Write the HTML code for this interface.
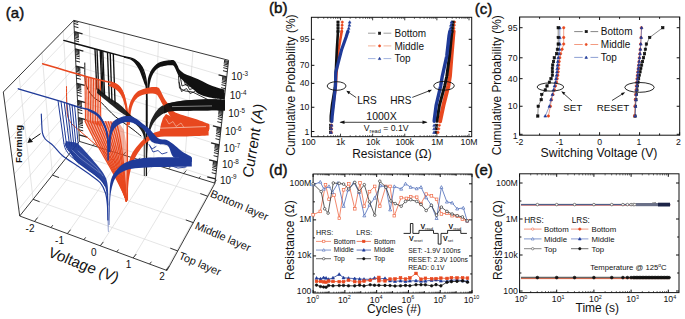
<!DOCTYPE html>
<html><head><meta charset="utf-8"><style>
html,body{margin:0;padding:0;background:#fff;}
svg{display:block;}
text{font-family:"Liberation Sans",sans-serif;}
</style></head><body>
<svg width="685" height="319" viewBox="0 0 685 319">
<rect width="685" height="319" fill="#fff"/>
<line x1="89.35" y1="24.32" x2="93.02" y2="145.60" stroke="#d3d3d3" stroke-width="0.6" />
<line x1="123.90" y1="33.25" x2="123.29" y2="154.93" stroke="#d3d3d3" stroke-width="0.6" />
<line x1="158.46" y1="42.17" x2="153.56" y2="164.26" stroke="#d3d3d3" stroke-width="0.6" />
<line x1="193.01" y1="51.10" x2="183.82" y2="173.59" stroke="#d3d3d3" stroke-width="0.6" />
<line x1="227.56" y1="60.03" x2="214.09" y2="182.92" stroke="#d3d3d3" stroke-width="0.6" />
<line x1="74.33" y1="31.70" x2="226.76" y2="76.90" stroke="#d3d3d3" stroke-width="0.6" />
<line x1="75.12" y1="48.90" x2="224.88" y2="93.90" stroke="#d3d3d3" stroke-width="0.6" />
<line x1="75.92" y1="66.10" x2="223.00" y2="110.90" stroke="#d3d3d3" stroke-width="0.6" />
<line x1="76.71" y1="83.30" x2="221.12" y2="127.90" stroke="#d3d3d3" stroke-width="0.6" />
<line x1="77.51" y1="100.50" x2="219.24" y2="144.90" stroke="#d3d3d3" stroke-width="0.6" />
<line x1="78.30" y1="117.70" x2="217.36" y2="161.90" stroke="#d3d3d3" stroke-width="0.6" />
<line x1="79.10" y1="134.90" x2="215.48" y2="178.90" stroke="#d3d3d3" stroke-width="0.6" />
<line x1="74.33" y1="31.70" x2="4.84" y2="103.67" stroke="#d3d3d3" stroke-width="0.6" />
<line x1="75.12" y1="48.90" x2="7.17" y2="121.28" stroke="#d3d3d3" stroke-width="0.6" />
<line x1="75.92" y1="66.10" x2="9.50" y2="138.90" stroke="#d3d3d3" stroke-width="0.6" />
<line x1="76.71" y1="83.30" x2="11.83" y2="156.51" stroke="#d3d3d3" stroke-width="0.6" />
<line x1="77.51" y1="100.50" x2="14.16" y2="174.12" stroke="#d3d3d3" stroke-width="0.6" />
<line x1="78.30" y1="117.70" x2="16.49" y2="191.73" stroke="#d3d3d3" stroke-width="0.6" />
<line x1="79.10" y1="134.90" x2="18.82" y2="209.34" stroke="#d3d3d3" stroke-width="0.6" />
<line x1="19.09" y1="75.94" x2="33.07" y2="199.29" stroke="#d3d3d3" stroke-width="0.6" />
<line x1="41.93" y1="52.71" x2="52.42" y2="175.12" stroke="#d3d3d3" stroke-width="0.6" />
<line x1="63.22" y1="31.05" x2="70.45" y2="152.59" stroke="#d3d3d3" stroke-width="0.6" />
<line x1="34.50" y1="221.47" x2="93.02" y2="145.60" stroke="#d3d3d3" stroke-width="0.6" />
<line x1="67.38" y1="233.64" x2="123.29" y2="154.93" stroke="#d3d3d3" stroke-width="0.6" />
<line x1="100.25" y1="245.80" x2="153.56" y2="164.26" stroke="#d3d3d3" stroke-width="0.6" />
<line x1="133.13" y1="257.97" x2="183.82" y2="173.59" stroke="#d3d3d3" stroke-width="0.6" />
<line x1="166.01" y1="270.14" x2="214.09" y2="182.92" stroke="#d3d3d3" stroke-width="0.6" />
<line x1="33.07" y1="199.29" x2="177.75" y2="250.94" stroke="#d3d3d3" stroke-width="0.6" />
<line x1="52.42" y1="175.12" x2="193.30" y2="222.66" stroke="#d3d3d3" stroke-width="0.6" />
<line x1="70.45" y1="152.59" x2="207.80" y2="196.29" stroke="#d3d3d3" stroke-width="0.6" />
<line x1="73.80" y1="20.30" x2="228.60" y2="60.30" stroke="#222" stroke-width="0.9" />
<line x1="73.80" y1="20.30" x2="3.30" y2="92.00" stroke="#222" stroke-width="0.9" />
<line x1="3.30" y1="92.00" x2="19.70" y2="216.00" stroke="#222" stroke-width="0.9" />
<line x1="19.70" y1="216.00" x2="167.00" y2="270.50" stroke="#222" stroke-width="0.9" />
<line x1="167.00" y1="270.50" x2="215.00" y2="183.20" stroke="#222" stroke-width="0.9" />
<line x1="215.00" y1="183.20" x2="228.60" y2="60.30" stroke="#222" stroke-width="0.9" />
<line x1="73.80" y1="20.30" x2="79.40" y2="141.40" stroke="#222" stroke-width="0.9" />
<line x1="79.40" y1="141.40" x2="215.00" y2="183.20" stroke="#222" stroke-width="0.9" />
<line x1="19.70" y1="216.00" x2="79.40" y2="141.40" stroke="#222" stroke-width="0.9" />
<line x1="74.33" y1="31.70" x2="82.56" y2="33.83" stroke="#222" stroke-width="1.3" />
<line x1="226.76" y1="76.90" x2="218.54" y2="74.78" stroke="#222" stroke-width="1.3" />
<line x1="74.09" y1="26.52" x2="78.44" y2="27.65" stroke="#222" stroke-width="1.0" />
<line x1="227.33" y1="71.78" x2="222.97" y2="70.66" stroke="#222" stroke-width="1.0" />
<line x1="73.95" y1="23.49" x2="78.30" y2="24.62" stroke="#222" stroke-width="1.0" />
<line x1="227.66" y1="68.79" x2="223.30" y2="67.66" stroke="#222" stroke-width="1.0" />
<line x1="73.85" y1="21.34" x2="78.20" y2="22.47" stroke="#222" stroke-width="1.0" />
<line x1="227.90" y1="66.66" x2="223.54" y2="65.54" stroke="#222" stroke-width="1.0" />
<line x1="228.08" y1="65.02" x2="223.72" y2="63.89" stroke="#222" stroke-width="1.0" />
<line x1="228.23" y1="63.67" x2="223.87" y2="62.55" stroke="#222" stroke-width="1.0" />
<line x1="228.35" y1="62.53" x2="224.00" y2="61.41" stroke="#222" stroke-width="1.0" />
<line x1="228.46" y1="61.55" x2="224.11" y2="60.42" stroke="#222" stroke-width="1.0" />
<line x1="75.12" y1="48.90" x2="83.35" y2="51.02" stroke="#222" stroke-width="1.3" />
<line x1="224.88" y1="93.90" x2="216.65" y2="91.78" stroke="#222" stroke-width="1.3" />
<line x1="74.88" y1="43.72" x2="79.24" y2="44.85" stroke="#222" stroke-width="1.0" />
<line x1="225.45" y1="88.78" x2="221.09" y2="87.66" stroke="#222" stroke-width="1.0" />
<line x1="74.74" y1="40.69" x2="79.10" y2="41.82" stroke="#222" stroke-width="1.0" />
<line x1="225.78" y1="85.79" x2="221.42" y2="84.66" stroke="#222" stroke-width="1.0" />
<line x1="74.64" y1="38.54" x2="79.00" y2="39.67" stroke="#222" stroke-width="1.0" />
<line x1="226.01" y1="83.66" x2="221.66" y2="82.54" stroke="#222" stroke-width="1.0" />
<line x1="74.57" y1="36.88" x2="78.92" y2="38.00" stroke="#222" stroke-width="1.0" />
<line x1="226.20" y1="82.02" x2="221.84" y2="80.89" stroke="#222" stroke-width="1.0" />
<line x1="74.50" y1="35.52" x2="78.86" y2="36.64" stroke="#222" stroke-width="1.0" />
<line x1="226.35" y1="80.67" x2="221.99" y2="79.55" stroke="#222" stroke-width="1.0" />
<line x1="74.45" y1="34.36" x2="78.81" y2="35.49" stroke="#222" stroke-width="1.0" />
<line x1="226.47" y1="79.53" x2="222.12" y2="78.41" stroke="#222" stroke-width="1.0" />
<line x1="74.40" y1="33.37" x2="78.76" y2="34.49" stroke="#222" stroke-width="1.0" />
<line x1="226.58" y1="78.55" x2="222.22" y2="77.42" stroke="#222" stroke-width="1.0" />
<line x1="74.36" y1="32.49" x2="78.72" y2="33.61" stroke="#222" stroke-width="1.0" />
<line x1="226.68" y1="77.68" x2="222.32" y2="76.55" stroke="#222" stroke-width="1.0" />
<line x1="75.92" y1="66.10" x2="84.15" y2="68.22" stroke="#222" stroke-width="1.3" />
<line x1="223.00" y1="110.90" x2="214.77" y2="108.78" stroke="#222" stroke-width="1.3" />
<line x1="75.68" y1="60.92" x2="80.03" y2="62.05" stroke="#222" stroke-width="1.0" />
<line x1="223.57" y1="105.78" x2="219.21" y2="104.66" stroke="#222" stroke-width="1.0" />
<line x1="75.54" y1="57.89" x2="79.89" y2="59.02" stroke="#222" stroke-width="1.0" />
<line x1="223.90" y1="102.79" x2="219.54" y2="101.66" stroke="#222" stroke-width="1.0" />
<line x1="75.44" y1="55.74" x2="79.80" y2="56.87" stroke="#222" stroke-width="1.0" />
<line x1="224.13" y1="100.66" x2="219.78" y2="99.54" stroke="#222" stroke-width="1.0" />
<line x1="75.36" y1="54.08" x2="79.72" y2="55.20" stroke="#222" stroke-width="1.0" />
<line x1="224.32" y1="99.02" x2="219.96" y2="97.89" stroke="#222" stroke-width="1.0" />
<line x1="75.30" y1="52.72" x2="79.65" y2="53.84" stroke="#222" stroke-width="1.0" />
<line x1="224.46" y1="97.67" x2="220.11" y2="96.55" stroke="#222" stroke-width="1.0" />
<line x1="75.25" y1="51.56" x2="79.60" y2="52.69" stroke="#222" stroke-width="1.0" />
<line x1="224.59" y1="96.53" x2="220.23" y2="95.41" stroke="#222" stroke-width="1.0" />
<line x1="75.20" y1="50.57" x2="79.56" y2="51.69" stroke="#222" stroke-width="1.0" />
<line x1="224.70" y1="95.55" x2="220.34" y2="94.42" stroke="#222" stroke-width="1.0" />
<line x1="75.16" y1="49.69" x2="79.51" y2="50.81" stroke="#222" stroke-width="1.0" />
<line x1="224.80" y1="94.68" x2="220.44" y2="93.55" stroke="#222" stroke-width="1.0" />
<line x1="76.71" y1="83.30" x2="84.94" y2="85.42" stroke="#222" stroke-width="1.3" />
<line x1="221.12" y1="127.90" x2="212.89" y2="125.78" stroke="#222" stroke-width="1.3" />
<line x1="76.47" y1="78.12" x2="80.83" y2="79.25" stroke="#222" stroke-width="1.0" />
<line x1="221.69" y1="122.78" x2="217.33" y2="121.66" stroke="#222" stroke-width="1.0" />
<line x1="76.33" y1="75.09" x2="80.69" y2="76.22" stroke="#222" stroke-width="1.0" />
<line x1="222.02" y1="119.79" x2="217.66" y2="118.66" stroke="#222" stroke-width="1.0" />
<line x1="76.23" y1="72.94" x2="80.59" y2="74.07" stroke="#222" stroke-width="1.0" />
<line x1="222.25" y1="117.66" x2="217.90" y2="116.54" stroke="#222" stroke-width="1.0" />
<line x1="76.16" y1="71.28" x2="80.51" y2="72.40" stroke="#222" stroke-width="1.0" />
<line x1="222.43" y1="116.02" x2="218.08" y2="114.89" stroke="#222" stroke-width="1.0" />
<line x1="76.09" y1="69.92" x2="80.45" y2="71.04" stroke="#222" stroke-width="1.0" />
<line x1="222.58" y1="114.67" x2="218.23" y2="113.55" stroke="#222" stroke-width="1.0" />
<line x1="76.04" y1="68.76" x2="80.40" y2="69.89" stroke="#222" stroke-width="1.0" />
<line x1="222.71" y1="113.53" x2="218.35" y2="112.41" stroke="#222" stroke-width="1.0" />
<line x1="75.99" y1="67.77" x2="80.35" y2="68.89" stroke="#222" stroke-width="1.0" />
<line x1="222.82" y1="112.55" x2="218.46" y2="111.42" stroke="#222" stroke-width="1.0" />
<line x1="75.95" y1="66.89" x2="80.31" y2="68.01" stroke="#222" stroke-width="1.0" />
<line x1="222.91" y1="111.68" x2="218.56" y2="110.55" stroke="#222" stroke-width="1.0" />
<line x1="77.51" y1="100.50" x2="85.74" y2="102.62" stroke="#222" stroke-width="1.3" />
<line x1="219.24" y1="144.90" x2="211.01" y2="142.78" stroke="#222" stroke-width="1.3" />
<line x1="77.27" y1="95.32" x2="81.63" y2="96.45" stroke="#222" stroke-width="1.0" />
<line x1="219.80" y1="139.78" x2="215.45" y2="138.66" stroke="#222" stroke-width="1.0" />
<line x1="77.13" y1="92.29" x2="81.49" y2="93.42" stroke="#222" stroke-width="1.0" />
<line x1="220.14" y1="136.79" x2="215.78" y2="135.66" stroke="#222" stroke-width="1.0" />
<line x1="77.03" y1="90.14" x2="81.39" y2="91.27" stroke="#222" stroke-width="1.0" />
<line x1="220.37" y1="134.66" x2="216.01" y2="133.54" stroke="#222" stroke-width="1.0" />
<line x1="76.95" y1="88.48" x2="81.31" y2="89.60" stroke="#222" stroke-width="1.0" />
<line x1="220.55" y1="133.02" x2="216.20" y2="131.89" stroke="#222" stroke-width="1.0" />
<line x1="76.89" y1="87.12" x2="81.25" y2="88.24" stroke="#222" stroke-width="1.0" />
<line x1="220.70" y1="131.67" x2="216.35" y2="130.55" stroke="#222" stroke-width="1.0" />
<line x1="76.84" y1="85.96" x2="81.19" y2="87.09" stroke="#222" stroke-width="1.0" />
<line x1="220.83" y1="130.53" x2="216.47" y2="129.41" stroke="#222" stroke-width="1.0" />
<line x1="76.79" y1="84.97" x2="81.15" y2="86.09" stroke="#222" stroke-width="1.0" />
<line x1="220.94" y1="129.55" x2="216.58" y2="128.42" stroke="#222" stroke-width="1.0" />
<line x1="76.75" y1="84.09" x2="81.11" y2="85.21" stroke="#222" stroke-width="1.0" />
<line x1="221.03" y1="128.68" x2="216.68" y2="127.55" stroke="#222" stroke-width="1.0" />
<line x1="78.30" y1="117.70" x2="86.53" y2="119.83" stroke="#222" stroke-width="1.3" />
<line x1="217.36" y1="161.90" x2="209.13" y2="159.78" stroke="#222" stroke-width="1.3" />
<line x1="78.06" y1="112.52" x2="82.42" y2="113.65" stroke="#222" stroke-width="1.0" />
<line x1="217.92" y1="156.78" x2="213.57" y2="155.66" stroke="#222" stroke-width="1.0" />
<line x1="77.92" y1="109.49" x2="82.28" y2="110.62" stroke="#222" stroke-width="1.0" />
<line x1="218.25" y1="153.79" x2="213.90" y2="152.66" stroke="#222" stroke-width="1.0" />
<line x1="77.83" y1="107.34" x2="82.18" y2="108.47" stroke="#222" stroke-width="1.0" />
<line x1="218.49" y1="151.66" x2="214.13" y2="150.54" stroke="#222" stroke-width="1.0" />
<line x1="77.75" y1="105.68" x2="82.10" y2="106.80" stroke="#222" stroke-width="1.0" />
<line x1="218.67" y1="150.02" x2="214.32" y2="148.89" stroke="#222" stroke-width="1.0" />
<line x1="77.69" y1="104.32" x2="82.04" y2="105.44" stroke="#222" stroke-width="1.0" />
<line x1="218.82" y1="148.67" x2="214.46" y2="147.55" stroke="#222" stroke-width="1.0" />
<line x1="77.63" y1="103.16" x2="81.99" y2="104.29" stroke="#222" stroke-width="1.0" />
<line x1="218.95" y1="147.53" x2="214.59" y2="146.41" stroke="#222" stroke-width="1.0" />
<line x1="77.59" y1="102.17" x2="81.94" y2="103.29" stroke="#222" stroke-width="1.0" />
<line x1="219.06" y1="146.55" x2="214.70" y2="145.42" stroke="#222" stroke-width="1.0" />
<line x1="77.55" y1="101.29" x2="81.90" y2="102.41" stroke="#222" stroke-width="1.0" />
<line x1="219.15" y1="145.68" x2="214.80" y2="144.55" stroke="#222" stroke-width="1.0" />
<line x1="79.10" y1="134.90" x2="87.33" y2="137.02" stroke="#222" stroke-width="1.3" />
<line x1="215.48" y1="178.90" x2="207.25" y2="176.78" stroke="#222" stroke-width="1.3" />
<line x1="78.86" y1="129.72" x2="83.22" y2="130.85" stroke="#222" stroke-width="1.0" />
<line x1="216.04" y1="173.78" x2="211.69" y2="172.66" stroke="#222" stroke-width="1.0" />
<line x1="78.72" y1="126.69" x2="83.08" y2="127.82" stroke="#222" stroke-width="1.0" />
<line x1="216.37" y1="170.79" x2="212.02" y2="169.66" stroke="#222" stroke-width="1.0" />
<line x1="78.62" y1="124.54" x2="82.98" y2="125.67" stroke="#222" stroke-width="1.0" />
<line x1="216.61" y1="168.66" x2="212.25" y2="167.54" stroke="#222" stroke-width="1.0" />
<line x1="78.54" y1="122.88" x2="82.90" y2="124.00" stroke="#222" stroke-width="1.0" />
<line x1="216.79" y1="167.02" x2="212.43" y2="165.89" stroke="#222" stroke-width="1.0" />
<line x1="78.48" y1="121.52" x2="82.84" y2="122.64" stroke="#222" stroke-width="1.0" />
<line x1="216.94" y1="165.67" x2="212.58" y2="164.55" stroke="#222" stroke-width="1.0" />
<line x1="78.43" y1="120.36" x2="82.78" y2="121.49" stroke="#222" stroke-width="1.0" />
<line x1="217.07" y1="164.53" x2="212.71" y2="163.41" stroke="#222" stroke-width="1.0" />
<line x1="78.38" y1="119.37" x2="82.74" y2="120.49" stroke="#222" stroke-width="1.0" />
<line x1="217.17" y1="163.55" x2="212.82" y2="162.42" stroke="#222" stroke-width="1.0" />
<line x1="78.34" y1="118.49" x2="82.70" y2="119.61" stroke="#222" stroke-width="1.0" />
<line x1="217.27" y1="162.68" x2="212.91" y2="161.55" stroke="#222" stroke-width="1.0" />
<line x1="34.50" y1="221.47" x2="37.62" y2="217.57" stroke="#222" stroke-width="0.9" />
<line x1="93.02" y1="145.60" x2="95.52" y2="142.47" stroke="#222" stroke-width="0.8" />
<line x1="50.94" y1="227.56" x2="52.81" y2="225.21" stroke="#222" stroke-width="0.9" />
<line x1="108.15" y1="150.26" x2="109.65" y2="148.39" stroke="#222" stroke-width="0.8" />
<line x1="67.38" y1="233.64" x2="70.50" y2="229.73" stroke="#222" stroke-width="0.9" />
<line x1="123.29" y1="154.93" x2="125.79" y2="151.81" stroke="#222" stroke-width="0.8" />
<line x1="83.81" y1="239.72" x2="85.69" y2="237.38" stroke="#222" stroke-width="0.9" />
<line x1="138.42" y1="159.59" x2="139.92" y2="157.72" stroke="#222" stroke-width="0.8" />
<line x1="100.25" y1="245.80" x2="103.38" y2="241.90" stroke="#222" stroke-width="0.9" />
<line x1="153.56" y1="164.26" x2="156.06" y2="161.14" stroke="#222" stroke-width="0.8" />
<line x1="116.69" y1="251.89" x2="118.57" y2="249.54" stroke="#222" stroke-width="0.9" />
<line x1="168.69" y1="168.92" x2="170.19" y2="167.05" stroke="#222" stroke-width="0.8" />
<line x1="133.13" y1="257.97" x2="136.26" y2="254.06" stroke="#222" stroke-width="0.9" />
<line x1="183.82" y1="173.59" x2="186.32" y2="170.47" stroke="#222" stroke-width="0.8" />
<line x1="149.57" y1="264.05" x2="151.45" y2="261.71" stroke="#222" stroke-width="0.9" />
<line x1="198.96" y1="178.25" x2="200.46" y2="176.38" stroke="#222" stroke-width="0.8" />
<line x1="166.01" y1="270.14" x2="169.14" y2="266.23" stroke="#222" stroke-width="0.9" />
<line x1="214.09" y1="182.92" x2="216.59" y2="179.80" stroke="#222" stroke-width="0.8" />
<line x1="177.75" y1="250.94" x2="170.25" y2="248.17" stroke="#222" stroke-width="0.9" />
<line x1="33.07" y1="199.29" x2="39.64" y2="201.72" stroke="#222" stroke-width="0.9" />
<line x1="193.30" y1="222.66" x2="185.80" y2="219.88" stroke="#222" stroke-width="0.9" />
<line x1="52.42" y1="175.12" x2="58.98" y2="177.55" stroke="#222" stroke-width="0.9" />
<line x1="207.80" y1="196.29" x2="200.30" y2="193.52" stroke="#222" stroke-width="0.9" />
<line x1="70.45" y1="152.59" x2="77.01" y2="155.02" stroke="#222" stroke-width="0.9" />
<line x1="95.00" y1="48.96" x2="96.80" y2="89.50" stroke="#111" stroke-width="1.35" />
<line x1="97.00" y1="49.51" x2="98.80" y2="91.10" stroke="#111" stroke-width="1.35" />
<line x1="100.20" y1="50.39" x2="102.00" y2="93.66" stroke="#111" stroke-width="1.35" />
<line x1="101.40" y1="50.72" x2="103.20" y2="94.62" stroke="#111" stroke-width="1.35" />
<line x1="102.80" y1="51.11" x2="104.60" y2="95.74" stroke="#111" stroke-width="1.35" />
<line x1="107.50" y1="52.40" x2="109.30" y2="99.50" stroke="#111" stroke-width="1.35" />
<line x1="110.20" y1="53.14" x2="112.00" y2="101.66" stroke="#111" stroke-width="1.35" />
<line x1="113.30" y1="53.99" x2="115.10" y2="104.14" stroke="#111" stroke-width="1.35" />
<path d="M63.80,40.40 C69.83,42.03 90.63,47.67 100.00,50.20 C109.37,52.73 114.58,54.20 120.00,55.60 C125.42,57.00 129.63,57.57 132.50,58.60 C135.37,59.63 135.62,60.37 137.20,61.80 C138.78,63.23 140.70,65.00 142.00,67.20 C143.30,69.40 144.23,72.12 145.00,75.00 C145.77,77.88 146.27,80.33 146.60,84.50 C146.93,88.67 146.93,92.42 147.00,100.00 C147.07,107.58 147.00,125.00 147.00,130.00" stroke="#111" stroke-width="1.4" fill="none" stroke-linejoin="round" stroke-linecap="round" />
<path d="M124.00,56.60 C125.13,56.93 128.63,57.90 130.80,58.60 C132.97,59.30 135.33,59.82 137.00,60.80 C138.67,61.78 139.75,62.83 140.80,64.50 C141.85,66.17 142.57,68.70 143.30,70.80 C144.03,72.90 144.72,75.00 145.20,77.10 C145.68,79.20 145.93,81.25 146.20,83.40 C146.47,85.55 146.63,87.23 146.80,90.00 C146.97,92.77 147.13,98.33 147.20,100.00 L146.00,100.00 C145.93,97.85 145.88,89.87 145.60,87.10 C145.32,84.33 144.90,85.07 144.30,83.40 C143.70,81.73 142.78,79.20 142.00,77.10 C141.22,75.00 140.63,72.90 139.60,70.80 C138.57,68.70 137.27,66.33 135.80,64.50 C134.33,62.67 132.77,60.92 130.80,59.80 C128.83,58.68 125.13,58.13 124.00,57.80 Z" stroke="none" stroke-width="1" fill="#111" stroke-linejoin="round" stroke-linecap="round" />
<line x1="146.40" y1="100.00" x2="146.40" y2="176.00" stroke="#111" stroke-width="1.3" />
<line x1="144.20" y1="130.00" x2="144.30" y2="176.00" stroke="#111" stroke-width="0.9" />
<path d="M84.80,63.00 C84.83,65.50 84.72,74.17 85.00,78.00 C85.28,81.83 85.67,83.50 86.50,86.00 C87.33,88.50 88.58,90.92 90.00,93.00 C91.42,95.08 93.12,96.90 95.00,98.50 C96.88,100.10 99.13,100.77 101.30,102.60 C103.47,104.43 105.65,107.15 108.00,109.50 C110.35,111.85 112.73,114.45 115.40,116.70 C118.07,118.95 121.07,120.87 124.00,123.00 C126.93,125.13 130.17,127.33 133.00,129.50 C135.83,131.67 139.67,134.92 141.00,136.00" stroke="#111" stroke-width="1.0" fill="none" stroke-linejoin="round" stroke-linecap="round" />
<path d="M147.40,88.00 C147.47,86.67 147.50,82.25 147.80,80.00 C148.10,77.75 148.57,76.23 149.20,74.50 C149.83,72.77 150.72,71.02 151.60,69.60 C152.48,68.18 153.35,67.13 154.50,66.00 C155.65,64.87 156.93,63.65 158.50,62.80 C160.07,61.95 161.95,61.33 163.90,60.90 C165.85,60.47 168.55,60.32 170.20,60.20 C171.85,60.08 172.85,59.82 173.80,60.20 C174.75,60.58 175.23,61.53 175.90,62.50 C176.57,63.47 177.22,64.83 177.80,66.00 C178.38,67.17 178.37,68.27 179.40,69.50 C180.43,70.73 182.43,72.40 184.00,73.40 C185.57,74.40 186.43,74.52 188.80,75.50 C191.17,76.48 195.07,77.88 198.20,79.30 C201.33,80.72 204.47,82.62 207.60,84.00 C210.73,85.38 214.18,86.67 217.00,87.60 C219.82,88.53 223.25,89.27 224.50,89.60 L224.50,99.50 C222.92,99.33 217.80,98.92 215.00,98.50 C212.20,98.08 210.20,97.67 207.70,97.00 C205.20,96.33 202.28,95.67 200.00,94.50 C197.72,93.33 196.00,91.58 194.00,90.00 C192.00,88.42 189.92,86.67 188.00,85.00 C186.08,83.33 184.00,81.42 182.50,80.00 C181.00,78.58 179.93,77.78 179.00,76.50 C178.07,75.22 177.73,74.00 176.90,72.30 C176.07,70.60 174.98,67.47 174.00,66.30 C173.02,65.13 172.42,65.40 171.00,65.30 C169.58,65.20 167.47,65.35 165.50,65.70 C163.53,66.05 160.95,66.52 159.20,67.40 C157.45,68.28 156.23,69.47 155.00,71.00 C153.77,72.53 152.67,74.43 151.80,76.60 C150.93,78.77 150.25,81.43 149.80,84.00 C149.35,86.57 149.22,90.67 149.10,92.00 Z" stroke="none" stroke-width="1" fill="#111" stroke-linejoin="round" stroke-linecap="round" />
<polyline points="178.50,76.00 179.50,88.20 185.10,91.00 192.60,92.00 200.20,95.80 207.70,99.50" stroke="#111" stroke-width="0.85" fill="none" stroke-linejoin="round" stroke-linecap="round" />
<polyline points="180.50,78.00 182.00,86.00 187.00,84.00 189.50,89.50 194.50,88.00 197.50,93.00 203.00,93.50" stroke="#111" stroke-width="0.85" fill="none" stroke-linejoin="round" stroke-linecap="round" />
<polyline points="184.00,80.00 185.50,85.00 190.50,86.50 193.50,83.50 197.00,90.00 201.00,89.00" stroke="#111" stroke-width="0.85" fill="none" stroke-linejoin="round" stroke-linecap="round" />
<polyline points="179.00,82.00 181.50,91.50 186.50,88.50 190.00,93.50 195.00,91.50" stroke="#111" stroke-width="0.85" fill="none" stroke-linejoin="round" stroke-linecap="round" />
<path d="M146.20,160.00 C146.33,156.67 146.62,145.00 147.00,140.00 C147.38,135.00 147.78,133.42 148.50,130.00 C149.22,126.58 149.58,123.13 151.30,119.50 C153.02,115.87 155.98,110.90 158.80,108.20 C161.62,105.50 165.07,104.43 168.20,103.30 C171.33,102.17 174.47,101.90 177.60,101.40 C180.73,100.90 183.87,100.57 187.00,100.30 C190.13,100.03 193.23,99.98 196.40,99.80 C199.57,99.62 202.90,99.28 206.00,99.20 C209.10,99.12 211.83,99.13 215.00,99.30 C218.17,99.47 223.33,100.05 225.00,100.20 L225.00,110.50 C223.33,110.47 219.17,110.28 215.00,110.30 C210.83,110.32 204.67,110.52 200.00,110.60 C195.33,110.68 190.73,110.77 187.00,110.80 C183.27,110.83 180.73,110.63 177.60,110.80 C174.47,110.97 171.05,111.02 168.20,111.80 C165.35,112.58 162.70,113.97 160.50,115.50 C158.30,117.03 156.53,119.00 155.00,121.00 C153.47,123.00 152.33,124.83 151.30,127.50 C150.27,130.17 149.43,133.25 148.80,137.00 C148.17,140.75 147.80,145.83 147.50,150.00 C147.20,154.17 147.08,160.00 147.00,162.00 Z" stroke="none" stroke-width="1" fill="#111" stroke-linejoin="round" stroke-linecap="round" fill-opacity="0.93"/>
<line x1="85.00" y1="76.29" x2="85.50" y2="121.00" stroke="#e8481f" stroke-width="1.1" />
<line x1="86.70" y1="76.79" x2="87.20" y2="121.59" stroke="#e8481f" stroke-width="1.1" />
<line x1="88.40" y1="77.29" x2="88.90" y2="122.19" stroke="#e8481f" stroke-width="1.1" />
<line x1="90.10" y1="77.79" x2="90.60" y2="122.78" stroke="#e8481f" stroke-width="1.1" />
<line x1="91.80" y1="78.29" x2="92.30" y2="123.38" stroke="#e8481f" stroke-width="1.1" />
<line x1="93.50" y1="78.79" x2="94.00" y2="123.98" stroke="#e8481f" stroke-width="1.1" />
<line x1="95.20" y1="79.29" x2="95.70" y2="124.57" stroke="#e8481f" stroke-width="1.1" />
<line x1="96.90" y1="79.79" x2="97.40" y2="125.17" stroke="#e8481f" stroke-width="1.1" />
<line x1="98.60" y1="80.29" x2="99.10" y2="125.76" stroke="#e8481f" stroke-width="1.1" />
<line x1="100.30" y1="80.79" x2="100.80" y2="126.36" stroke="#e8481f" stroke-width="1.1" />
<path d="M66.50,86.60 C66.52,88.83 66.43,95.27 66.60,100.00 C66.77,104.73 66.93,111.42 67.50,115.00 C68.07,118.58 69.08,119.83 70.00,121.50 C70.92,123.17 71.00,123.12 73.00,125.00 C75.00,126.88 78.83,130.05 82.00,132.80 C85.17,135.55 88.67,138.63 92.00,141.50 C95.33,144.37 99.00,147.42 102.00,150.00 C105.00,152.58 107.67,154.83 110.00,157.00 C112.33,159.17 115.00,162.00 116.00,163.00" stroke="#e8481f" stroke-width="1.0" fill="none" stroke-linejoin="round" stroke-linecap="round" />
<path d="M42.60,63.80 C49.67,65.88 74.60,73.40 85.00,76.30 C95.40,79.20 100.60,80.22 105.00,81.20 C109.40,82.18 109.57,81.70 111.40,82.20 C113.23,82.70 114.53,83.27 116.00,84.20 C117.47,85.13 119.03,86.33 120.20,87.80 C121.37,89.27 122.23,90.85 123.00,93.00 C123.77,95.15 124.25,98.20 124.80,100.70 C125.35,103.20 125.92,105.65 126.30,108.00 C126.68,110.35 126.93,111.97 127.10,114.80 C127.27,117.63 127.27,110.80 127.30,125.00 C127.33,139.20 127.30,187.50 127.30,200.00" stroke="#e8481f" stroke-width="1.5" fill="none" stroke-linejoin="round" stroke-linecap="round" />
<path d="M112.00,82.30 C112.83,82.68 115.50,83.57 117.00,84.60 C118.50,85.63 119.80,86.93 121.00,88.50 C122.20,90.07 123.33,91.92 124.20,94.00 C125.07,96.08 125.63,98.58 126.20,101.00 C126.77,103.42 127.23,106.00 127.60,108.50 C127.97,111.00 128.27,114.75 128.40,116.00 L126.60,116.00 C126.43,114.83 126.07,111.33 125.60,109.00 C125.13,106.67 124.50,104.17 123.80,102.00 C123.10,99.83 122.37,97.80 121.40,96.00 C120.43,94.20 119.40,92.57 118.00,91.20 C116.60,89.83 114.67,88.70 113.00,87.80 C111.33,86.90 108.83,86.13 108.00,85.80 Z" stroke="none" stroke-width="1" fill="#e8481f" stroke-linejoin="round" stroke-linecap="round" />
<polygon points="86.00,120.00 96.00,121.00 104.00,121.00 112.00,121.50 119.00,123.00 124.00,130.00 126.50,145.00 126.80,200.00 126.00,200.00 123.50,190.00 119.00,180.00 113.00,171.00 107.00,162.00 101.00,150.00 95.00,138.00 87.00,126.00" fill="#e8481f" stroke="none" stroke-width="0" fill-opacity="0.42"/>
<path d="M85.00,121.00 C98.00,150.00 120.00,180.00 126.40,201.00" stroke="#e8481f" stroke-width="1.25" fill="none" stroke-linejoin="round" stroke-linecap="round" />
<path d="M87.58,121.08 C100.08,149.17 120.42,180.00 126.40,201.00" stroke="#e8481f" stroke-width="1.25" fill="none" stroke-linejoin="round" stroke-linecap="round" />
<path d="M90.17,121.17 C102.17,148.33 120.83,180.00 126.40,201.00" stroke="#e8481f" stroke-width="1.25" fill="none" stroke-linejoin="round" stroke-linecap="round" />
<path d="M92.75,121.25 C104.25,147.50 121.25,180.00 126.40,201.00" stroke="#e8481f" stroke-width="1.25" fill="none" stroke-linejoin="round" stroke-linecap="round" />
<path d="M95.33,121.33 C106.33,146.67 121.67,180.00 126.40,201.00" stroke="#e8481f" stroke-width="1.25" fill="none" stroke-linejoin="round" stroke-linecap="round" />
<path d="M97.92,121.42 C108.42,145.83 122.08,180.00 126.40,201.00" stroke="#e8481f" stroke-width="1.25" fill="none" stroke-linejoin="round" stroke-linecap="round" />
<path d="M100.50,121.50 C110.50,145.00 122.50,180.00 126.40,201.00" stroke="#e8481f" stroke-width="1.25" fill="none" stroke-linejoin="round" stroke-linecap="round" />
<path d="M103.08,121.58 C112.58,144.17 122.92,180.00 126.40,201.00" stroke="#e8481f" stroke-width="1.25" fill="none" stroke-linejoin="round" stroke-linecap="round" />
<path d="M105.67,121.67 C114.67,143.33 123.33,180.00 126.40,201.00" stroke="#e8481f" stroke-width="1.25" fill="none" stroke-linejoin="round" stroke-linecap="round" />
<path d="M108.25,121.75 C116.75,142.50 123.75,180.00 126.40,201.00" stroke="#e8481f" stroke-width="1.25" fill="none" stroke-linejoin="round" stroke-linecap="round" />
<path d="M110.83,121.83 C118.83,141.67 124.17,180.00 126.40,201.00" stroke="#e8481f" stroke-width="1.25" fill="none" stroke-linejoin="round" stroke-linecap="round" />
<path d="M113.42,121.92 C120.92,140.83 124.58,180.00 126.40,201.00" stroke="#e8481f" stroke-width="1.25" fill="none" stroke-linejoin="round" stroke-linecap="round" />
<path d="M116.00,122.00 C123.00,140.00 125.00,180.00 126.40,201.00" stroke="#e8481f" stroke-width="1.25" fill="none" stroke-linejoin="round" stroke-linecap="round" />
<path d="M128.20,125.00 C128.20,122.77 127.90,115.27 128.20,111.60 C128.50,107.93 129.27,105.35 130.00,103.00 C130.73,100.65 131.68,99.08 132.60,97.50 C133.52,95.92 134.45,94.62 135.50,93.50 C136.55,92.38 137.48,91.58 138.90,90.80 C140.32,90.02 142.25,89.37 144.00,88.80 C145.75,88.23 147.08,87.63 149.40,87.40 C151.72,87.17 156.02,86.78 157.90,87.40 C159.78,88.02 159.62,89.23 160.70,91.10 C161.78,92.97 163.15,96.42 164.40,98.60 C165.65,100.78 166.63,102.05 168.20,104.20 C169.77,106.35 171.30,109.65 173.80,111.50 C176.30,113.35 179.43,114.02 183.20,115.30 C186.97,116.58 192.32,117.82 196.40,119.20 C200.48,120.58 205.52,122.63 207.70,123.60 C209.88,124.57 209.20,124.77 209.50,125.00 L209.50,129.50 C207.95,129.30 203.95,128.93 200.20,128.30 C196.45,127.67 190.77,126.62 187.00,125.70 C183.23,124.78 180.27,124.22 177.60,122.80 C174.93,121.38 172.72,119.12 171.00,117.20 C169.28,115.28 168.70,113.40 167.30,111.30 C165.90,109.20 163.87,106.65 162.60,104.60 C161.33,102.55 160.72,100.67 159.70,99.00 C158.68,97.33 157.90,95.50 156.50,94.60 C155.10,93.70 153.22,93.67 151.30,93.60 C149.38,93.53 146.88,93.80 145.00,94.20 C143.12,94.60 141.58,95.07 140.00,96.00 C138.42,96.93 136.78,98.13 135.50,99.80 C134.22,101.47 133.12,103.63 132.30,106.00 C131.48,108.37 131.02,110.83 130.60,114.00 C130.18,117.17 129.93,123.17 129.80,125.00 Z" stroke="none" stroke-width="1" fill="#e8481f" stroke-linejoin="round" stroke-linecap="round" />
<polygon points="166.00,114.00 172.00,117.00 183.00,120.50 196.00,124.00 209.00,126.00 209.00,131.00 190.00,131.00 175.00,131.00 163.00,131.50 159.50,132.00 161.00,124.00 163.00,118.00" fill="#e8481f" stroke="none" stroke-width="0" />
<polyline points="166.00,119.00 169.00,124.00 173.00,121.50 176.00,126.50 181.00,123.00 184.00,127.50" stroke="#f6b8a0" stroke-width="0.7" fill="none" stroke-linejoin="round" stroke-linecap="round" />
<path d="M126.60,190.00 C126.67,187.17 126.52,178.00 127.00,173.00 C127.48,168.00 128.42,163.67 129.50,160.00 C130.58,156.33 131.83,153.77 133.50,151.00 C135.17,148.23 137.17,145.82 139.50,143.40 C141.83,140.98 144.28,138.53 147.50,136.50 C150.72,134.47 153.78,132.38 158.80,131.20 C163.82,130.02 171.33,129.83 177.60,129.40 C183.87,128.97 191.23,128.82 196.40,128.60 C201.57,128.38 206.57,128.18 208.60,128.10 L208.60,135.60 C205.00,135.73 194.37,136.23 187.00,136.40 C179.63,136.57 170.07,136.20 164.40,136.60 C158.73,137.00 156.07,137.73 153.00,138.80 C149.93,139.87 148.17,141.13 146.00,143.00 C143.83,144.87 141.83,147.50 140.00,150.00 C138.17,152.50 136.47,155.00 135.00,158.00 C133.53,161.00 132.23,164.33 131.20,168.00 C130.17,171.67 129.40,175.50 128.80,180.00 C128.20,184.50 127.80,192.50 127.60,195.00 Z" stroke="none" stroke-width="1" fill="#e8481f" stroke-linejoin="round" stroke-linecap="round" />
<line x1="160.00" y1="128.20" x2="206.00" y2="126.60" stroke="#f5b09a" stroke-width="1.0" />
<path d="M164.00,105.50 C164.70,105.13 165.93,103.98 168.20,103.30 C170.47,102.62 174.47,101.90 177.60,101.40 C180.73,100.90 183.87,100.57 187.00,100.30 C190.13,100.03 193.23,99.98 196.40,99.80 C199.57,99.62 202.90,99.28 206.00,99.20 C209.10,99.12 211.83,99.13 215.00,99.30 C218.17,99.47 223.33,100.05 225.00,100.20 L225.00,110.50 C223.33,110.47 219.17,110.28 215.00,110.30 C210.83,110.32 204.67,110.52 200.00,110.60 C195.33,110.68 190.73,110.77 187.00,110.80 C183.27,110.83 180.73,110.63 177.60,110.80 C174.47,110.97 170.47,111.35 168.20,111.80 C165.93,112.25 164.70,113.22 164.00,113.50 Z" stroke="none" stroke-width="1" fill="#111" stroke-linejoin="round" stroke-linecap="round" fill-opacity="0.93"/>
<line x1="172.00" y1="106.60" x2="212.00" y2="105.90" stroke="#cfcfcf" stroke-width="0.6" />
<path d="M97.50,88.00 C97.90,88.32 98.08,88.42 99.90,89.90 C101.72,91.38 105.35,94.67 108.40,96.90 C111.45,99.13 115.38,101.17 118.20,103.30 C121.02,105.43 123.42,107.93 125.30,109.70 C127.18,111.47 128.05,112.52 129.50,113.90 C130.95,115.28 132.42,116.57 134.00,118.00 C135.58,119.43 137.50,120.92 139.00,122.50 C140.50,124.08 141.92,125.58 143.00,127.50 C144.08,129.42 145.08,132.92 145.50,134.00 L146.00,142.00 C145.33,140.33 143.42,134.67 142.00,132.00 C140.58,129.33 139.33,127.92 137.50,126.00 C135.67,124.08 132.80,122.12 131.00,120.50 C129.20,118.88 128.83,117.98 126.70,116.30 C124.57,114.62 121.48,112.92 118.20,110.40 C114.92,107.88 110.05,103.68 107.00,101.20 C103.95,98.72 101.57,96.87 99.90,95.50 C98.23,94.13 97.48,93.42 97.00,93.00 Z" stroke="none" stroke-width="1" fill="#111" stroke-linejoin="round" stroke-linecap="round" fill-opacity="0.92"/>
<line x1="58.00" y1="100.58" x2="64.00" y2="143.80" stroke="#1f3a98" stroke-width="1.0" />
<line x1="61.00" y1="101.47" x2="66.50" y2="144.50" stroke="#1f3a98" stroke-width="1.0" />
<line x1="64.20" y1="102.42" x2="69.50" y2="145.50" stroke="#1f3a98" stroke-width="1.0" />
<line x1="66.80" y1="103.19" x2="71.80" y2="146.50" stroke="#1f3a98" stroke-width="1.0" />
<line x1="69.50" y1="103.99" x2="74.00" y2="147.00" stroke="#1f3a98" stroke-width="1.0" />
<line x1="72.00" y1="104.73" x2="76.20" y2="147.50" stroke="#1f3a98" stroke-width="1.0" />
<line x1="74.60" y1="105.50" x2="78.50" y2="148.00" stroke="#1f3a98" stroke-width="1.0" />
<path d="M64.00,143.80 C64.25,144.67 64.50,147.05 65.50,149.00 C66.50,150.95 67.92,153.33 70.00,155.50 C72.08,157.67 75.00,159.67 78.00,162.00 C81.00,164.33 84.83,167.08 88.00,169.50 C91.17,171.92 94.50,174.33 97.00,176.50 C99.50,178.67 101.42,180.25 103.00,182.50 C104.58,184.75 105.70,186.25 106.50,190.00 C107.30,193.75 107.58,202.50 107.80,205.00" stroke="#1f3a98" stroke-width="1.0" fill="none" stroke-linejoin="round" stroke-linecap="round" />
<path d="M65.50,143.80 C65.75,144.58 65.83,146.63 67.00,148.50 C68.17,150.37 70.17,152.75 72.50,155.00 C74.83,157.25 77.92,159.50 81.00,162.00 C84.08,164.50 87.92,167.42 91.00,170.00 C94.08,172.58 97.17,174.83 99.50,177.50 C101.83,180.17 104.08,184.58 105.00,186.00" stroke="#1f3a98" stroke-width="1.0" fill="none" stroke-linejoin="round" stroke-linecap="round" />
<path d="M18.30,88.80 C25.25,90.87 49.95,98.13 60.00,101.20 C70.05,104.27 73.67,105.77 78.60,107.20 C83.53,108.63 86.68,108.83 89.60,109.80 C92.52,110.77 94.28,111.72 96.10,113.00 C97.92,114.28 99.18,115.67 100.50,117.50 C101.82,119.33 102.95,121.58 104.00,124.00 C105.05,126.42 106.13,128.73 106.80,132.00 C107.47,135.27 107.78,138.93 108.00,143.60 C108.22,148.27 108.08,157.27 108.10,160.00" stroke="#1f3a98" stroke-width="1.4" fill="none" stroke-linejoin="round" stroke-linecap="round" />
<path d="M88.00,109.20 C89.17,109.67 93.00,110.83 95.00,112.00 C97.00,113.17 98.50,114.45 100.00,116.20 C101.50,117.95 102.83,120.13 104.00,122.50 C105.17,124.87 106.22,127.48 107.00,130.40 C107.78,133.32 108.33,136.40 108.70,140.00 C109.07,143.60 109.12,150.00 109.20,152.00 L107.60,152.00 C107.53,150.17 107.50,144.33 107.20,141.00 C106.90,137.67 106.47,134.67 105.80,132.00 C105.13,129.33 104.23,127.17 103.20,125.00 C102.17,122.83 101.00,120.75 99.60,119.00 C98.20,117.25 96.73,115.83 94.80,114.50 C92.87,113.17 89.13,111.58 88.00,111.00 Z" stroke="none" stroke-width="1" fill="#1f3a98" stroke-linejoin="round" stroke-linecap="round" />
<path d="M41.30,114.00 C41.38,115.83 41.62,121.90 41.80,125.00 C41.98,128.10 41.95,130.43 42.40,132.60 C42.85,134.77 43.58,136.53 44.50,138.00 C45.42,139.47 46.42,140.10 47.90,141.40 C49.38,142.70 50.95,143.40 53.40,145.80 C55.85,148.20 58.57,152.43 62.60,155.80 C66.63,159.17 73.00,162.83 77.60,166.00 C82.20,169.17 86.43,172.02 90.20,174.80 C93.97,177.58 97.65,179.67 100.20,182.70 C102.75,185.73 104.30,189.28 105.50,193.00 C106.70,196.72 107.00,200.50 107.40,205.00 C107.80,209.50 107.82,217.50 107.90,220.00" stroke="#1f3a98" stroke-width="1.15" fill="none" stroke-linejoin="round" stroke-linecap="round" />
<path d="M66.00,141.00 C67.00,141.17 70.07,141.53 72.00,142.00 C73.93,142.47 75.10,141.93 77.60,143.80 C80.10,145.67 83.85,149.78 87.00,153.20 C90.15,156.62 93.75,160.92 96.50,164.30 C99.25,167.68 101.70,170.38 103.50,173.50 C105.30,176.62 106.50,178.58 107.30,183.00 C108.10,187.42 108.12,191.83 108.30,200.00 C108.48,208.17 108.38,226.67 108.40,232.00 L108.00,232.00 C107.87,226.67 107.55,207.33 107.20,200.00 C106.85,192.67 106.75,191.03 105.90,188.00 C105.05,184.97 103.98,183.93 102.10,181.80 C100.22,179.67 97.42,177.42 94.60,175.20 C91.78,172.98 88.35,170.88 85.20,168.50 C82.05,166.12 78.53,164.02 75.70,160.90 C72.87,157.78 69.98,152.45 68.20,149.80 C66.42,147.15 65.53,145.80 65.00,145.00 Z" stroke="none" stroke-width="1" fill="#1f3a98" stroke-linejoin="round" stroke-linecap="round" fill-opacity="0.95"/>
<polyline points="72.00,150.00 80.00,158.00 90.00,165.50 100.00,173.00" stroke="#8a9ad0" stroke-width="0.6" fill="none" stroke-linejoin="round" stroke-linecap="round" />
<polyline points="78.00,151.00 88.00,160.00 97.00,168.00 103.00,176.00" stroke="#8a9ad0" stroke-width="0.6" fill="none" stroke-linejoin="round" stroke-linecap="round" />
<path d="M108.20,152.00 C108.25,150.00 108.28,143.13 108.50,140.00 C108.72,136.87 109.03,135.73 109.50,133.20 C109.97,130.67 110.63,126.75 111.30,124.80 C111.97,122.85 112.55,122.45 113.50,121.50 C114.45,120.55 115.25,119.97 117.00,119.10 C118.75,118.23 121.65,116.77 124.00,116.30 C126.35,115.83 128.98,115.83 131.10,116.30 C133.22,116.77 134.82,117.92 136.70,119.10 C138.58,120.28 140.52,121.98 142.40,123.40 C144.28,124.82 146.23,126.00 148.00,127.60 C149.77,129.20 151.15,131.13 153.00,133.00 C154.85,134.87 156.90,137.67 159.10,138.80 C161.30,139.93 163.85,138.92 166.20,139.80 C168.55,140.68 170.62,142.20 173.20,144.10 C175.78,146.00 178.87,149.20 181.70,151.20 C184.53,153.20 188.52,154.97 190.20,156.10 C191.88,157.23 191.53,157.68 191.80,158.00 L191.80,162.00 C190.17,161.42 185.10,159.37 182.00,158.50 C178.90,157.63 175.53,158.88 173.20,156.80 C170.87,154.72 170.20,148.08 168.00,146.00 C165.80,143.92 162.67,144.97 160.00,144.30 C157.33,143.63 154.00,143.38 152.00,142.00 C150.00,140.62 149.37,138.05 148.00,136.00 C146.63,133.95 145.45,131.45 143.80,129.70 C142.15,127.95 139.98,126.67 138.10,125.50 C136.22,124.33 134.38,123.28 132.50,122.70 C130.62,122.12 128.92,121.77 126.80,122.00 C124.68,122.23 121.92,122.93 119.80,124.10 C117.68,125.27 115.52,127.00 114.10,129.00 C112.68,131.00 111.88,133.43 111.30,136.10 C110.72,138.77 110.75,142.35 110.60,145.00 C110.45,147.65 110.43,150.83 110.40,152.00 Z" stroke="none" stroke-width="1" fill="#1f3a98" stroke-linejoin="round" stroke-linecap="round" />
<polyline points="150.00,146.00 153.00,152.00 158.00,150.50 162.00,154.00 167.00,152.50" stroke="#1f3a98" stroke-width="0.9" fill="none" stroke-linejoin="round" stroke-linecap="round" />
<polyline points="149.00,144.50 152.00,149.00 156.00,146.50" stroke="#1f3a98" stroke-width="0.9" fill="none" stroke-linejoin="round" stroke-linecap="round" />
<path d="M108.80,225.00 C108.90,220.50 109.03,205.53 109.40,198.00 C109.77,190.47 109.65,184.65 111.00,179.80 C112.35,174.95 114.95,171.82 117.50,168.90 C120.05,165.98 123.00,163.95 126.30,162.30 C129.60,160.65 133.28,159.78 137.30,159.00 C141.32,158.22 145.65,157.90 150.40,157.60 C155.15,157.30 161.20,157.27 165.80,157.20 C170.40,157.13 173.67,157.15 178.00,157.20 C182.33,157.25 189.50,157.45 191.80,157.50 L191.80,166.50 C189.50,166.55 182.33,166.72 178.00,166.80 C173.67,166.88 170.40,166.93 165.80,167.00 C161.20,167.07 155.52,166.98 150.40,167.20 C145.28,167.42 139.48,167.67 135.10,168.30 C130.72,168.93 127.38,169.38 124.10,171.00 C120.82,172.62 117.55,174.70 115.40,178.00 C113.25,181.30 112.12,186.30 111.20,190.80 C110.28,195.30 110.20,199.30 109.90,205.00 C109.60,210.70 109.48,221.67 109.40,225.00 Z" stroke="none" stroke-width="1" fill="#1f3a98" stroke-linejoin="round" stroke-linecap="round" />
<polyline points="170.40,165.50 178.00,168.10 186.00,167.00" stroke="#1f3a98" stroke-width="0.9" fill="none" stroke-linejoin="round" stroke-linecap="round" />
<text x="5.80" y="17.50" font-size="15" text-anchor="start" font-weight="normal" fill="#111" stroke="#111" stroke-width="0.45">(a)</text>
<text x="231.3" y="80.4" font-size="10" fill="#111">10<tspan font-size="6.3" dy="-4.2">-3</tspan></text>
<text x="229.7" y="98.8" font-size="10" fill="#111">10<tspan font-size="6.3" dy="-4.2">-4</tspan></text>
<text x="228.3" y="117" font-size="10" fill="#111">10<tspan font-size="6.3" dy="-4.2">-5</tspan></text>
<text x="224.9" y="134.9" font-size="10" fill="#111">10<tspan font-size="6.3" dy="-4.2">-6</tspan></text>
<text x="223.6" y="151.8" font-size="10" fill="#111">10<tspan font-size="6.3" dy="-4.2">-7</tspan></text>
<text x="222" y="167.8" font-size="10" fill="#111">10<tspan font-size="6.3" dy="-4.2">-8</tspan></text>
<text x="219.9" y="183.6" font-size="10" fill="#111">10<tspan font-size="6.3" dy="-4.2">-9</tspan></text>
<text transform="translate(258.4,141.8) rotate(-81) skewX(-5)" font-size="15" text-anchor="middle" fill="#111">Current (A)</text>
<text transform="translate(47,256.3) rotate(21) skewX(-4)" font-size="15" fill="#111">Voltage (V)</text>
<text x="30.00" y="232.10" font-size="10" text-anchor="middle" font-weight="normal" fill="#111" >-2</text>
<text x="59.50" y="244.10" font-size="10" text-anchor="middle" font-weight="normal" fill="#111" >-1</text>
<text x="93.70" y="256.10" font-size="10" text-anchor="middle" font-weight="normal" fill="#111" >0</text>
<text x="128.50" y="268.10" font-size="10" text-anchor="middle" font-weight="normal" fill="#111" >1</text>
<text x="162.00" y="280.10" font-size="10" text-anchor="middle" font-weight="normal" fill="#111" >2</text>
<text transform="translate(209.5,196.5) rotate(23)" font-size="11" fill="#111">Bottom layer</text>
<text transform="translate(194.2,228.5) rotate(23)" font-size="11" fill="#111">Middle layer</text>
<text transform="translate(178,258.5) rotate(23)" font-size="11" fill="#111">Top layer</text>
<text transform="translate(22.4,144.0) rotate(-90)" font-size="9.5" font-weight="bold" text-anchor="middle" fill="#111">Forming</text>
<line x1="40.50" y1="133.70" x2="31.50" y2="139.90" stroke="#111" stroke-width="1.0" />
<polygon points="27.40,143.00 29.60,137.60 33.00,141.90" fill="#111" stroke="none" stroke-width="0" />
<rect x="311.4" y="17.3" width="160.30" height="119.40" fill="none" stroke="#111" stroke-width="1"/>
<line x1="311.40" y1="131.52" x2="314.40" y2="131.52" stroke="#111" stroke-width="1" />
<line x1="471.70" y1="131.52" x2="468.70" y2="131.52" stroke="#111" stroke-width="1" />
<text x="309.30" y="134.62" font-size="8.7" text-anchor="end" font-weight="normal" fill="#111" >1</text>
<line x1="311.40" y1="107.26" x2="314.40" y2="107.26" stroke="#111" stroke-width="1" />
<line x1="471.70" y1="107.26" x2="468.70" y2="107.26" stroke="#111" stroke-width="1" />
<text x="309.30" y="110.36" font-size="8.7" text-anchor="end" font-weight="normal" fill="#111" >10</text>
<line x1="311.40" y1="83.38" x2="314.40" y2="83.38" stroke="#111" stroke-width="1" />
<line x1="471.70" y1="83.38" x2="468.70" y2="83.38" stroke="#111" stroke-width="1" />
<text x="309.30" y="86.48" font-size="8.7" text-anchor="end" font-weight="normal" fill="#111" >40</text>
<line x1="311.40" y1="65.32" x2="314.40" y2="65.32" stroke="#111" stroke-width="1" />
<line x1="471.70" y1="65.32" x2="468.70" y2="65.32" stroke="#111" stroke-width="1" />
<text x="309.30" y="68.42" font-size="8.7" text-anchor="end" font-weight="normal" fill="#111" >70</text>
<line x1="311.40" y1="39.31" x2="314.40" y2="39.31" stroke="#111" stroke-width="1" />
<line x1="471.70" y1="39.31" x2="468.70" y2="39.31" stroke="#111" stroke-width="1" />
<text x="309.30" y="42.41" font-size="8.7" text-anchor="end" font-weight="normal" fill="#111" >95</text>
<line x1="318.07" y1="136.70" x2="318.07" y2="135.10" stroke="#111" stroke-width="0.6" />
<line x1="318.07" y1="17.30" x2="318.07" y2="18.90" stroke="#111" stroke-width="0.6" />
<line x1="323.73" y1="136.70" x2="323.73" y2="135.10" stroke="#111" stroke-width="0.6" />
<line x1="323.73" y1="17.30" x2="323.73" y2="18.90" stroke="#111" stroke-width="0.6" />
<line x1="327.74" y1="136.70" x2="327.74" y2="135.10" stroke="#111" stroke-width="0.6" />
<line x1="327.74" y1="17.30" x2="327.74" y2="18.90" stroke="#111" stroke-width="0.6" />
<line x1="330.85" y1="136.70" x2="330.85" y2="135.10" stroke="#111" stroke-width="0.6" />
<line x1="330.85" y1="17.30" x2="330.85" y2="18.90" stroke="#111" stroke-width="0.6" />
<line x1="333.39" y1="136.70" x2="333.39" y2="135.10" stroke="#111" stroke-width="0.6" />
<line x1="333.39" y1="17.30" x2="333.39" y2="18.90" stroke="#111" stroke-width="0.6" />
<line x1="335.54" y1="136.70" x2="335.54" y2="135.10" stroke="#111" stroke-width="0.6" />
<line x1="335.54" y1="17.30" x2="335.54" y2="18.90" stroke="#111" stroke-width="0.6" />
<line x1="337.41" y1="136.70" x2="337.41" y2="135.10" stroke="#111" stroke-width="0.6" />
<line x1="337.41" y1="17.30" x2="337.41" y2="18.90" stroke="#111" stroke-width="0.6" />
<line x1="339.05" y1="136.70" x2="339.05" y2="135.10" stroke="#111" stroke-width="0.6" />
<line x1="339.05" y1="17.30" x2="339.05" y2="18.90" stroke="#111" stroke-width="0.6" />
<line x1="340.52" y1="136.70" x2="340.52" y2="133.70" stroke="#111" stroke-width="0.8" />
<line x1="340.52" y1="17.30" x2="340.52" y2="20.30" stroke="#111" stroke-width="0.8" />
<line x1="350.19" y1="136.70" x2="350.19" y2="135.10" stroke="#111" stroke-width="0.6" />
<line x1="350.19" y1="17.30" x2="350.19" y2="18.90" stroke="#111" stroke-width="0.6" />
<line x1="355.85" y1="136.70" x2="355.85" y2="135.10" stroke="#111" stroke-width="0.6" />
<line x1="355.85" y1="17.30" x2="355.85" y2="18.90" stroke="#111" stroke-width="0.6" />
<line x1="359.86" y1="136.70" x2="359.86" y2="135.10" stroke="#111" stroke-width="0.6" />
<line x1="359.86" y1="17.30" x2="359.86" y2="18.90" stroke="#111" stroke-width="0.6" />
<line x1="362.97" y1="136.70" x2="362.97" y2="135.10" stroke="#111" stroke-width="0.6" />
<line x1="362.97" y1="17.30" x2="362.97" y2="18.90" stroke="#111" stroke-width="0.6" />
<line x1="365.51" y1="136.70" x2="365.51" y2="135.10" stroke="#111" stroke-width="0.6" />
<line x1="365.51" y1="17.30" x2="365.51" y2="18.90" stroke="#111" stroke-width="0.6" />
<line x1="367.66" y1="136.70" x2="367.66" y2="135.10" stroke="#111" stroke-width="0.6" />
<line x1="367.66" y1="17.30" x2="367.66" y2="18.90" stroke="#111" stroke-width="0.6" />
<line x1="369.53" y1="136.70" x2="369.53" y2="135.10" stroke="#111" stroke-width="0.6" />
<line x1="369.53" y1="17.30" x2="369.53" y2="18.90" stroke="#111" stroke-width="0.6" />
<line x1="371.17" y1="136.70" x2="371.17" y2="135.10" stroke="#111" stroke-width="0.6" />
<line x1="371.17" y1="17.30" x2="371.17" y2="18.90" stroke="#111" stroke-width="0.6" />
<line x1="372.64" y1="136.70" x2="372.64" y2="133.70" stroke="#111" stroke-width="0.8" />
<line x1="372.64" y1="17.30" x2="372.64" y2="20.30" stroke="#111" stroke-width="0.8" />
<line x1="382.31" y1="136.70" x2="382.31" y2="135.10" stroke="#111" stroke-width="0.6" />
<line x1="382.31" y1="17.30" x2="382.31" y2="18.90" stroke="#111" stroke-width="0.6" />
<line x1="387.97" y1="136.70" x2="387.97" y2="135.10" stroke="#111" stroke-width="0.6" />
<line x1="387.97" y1="17.30" x2="387.97" y2="18.90" stroke="#111" stroke-width="0.6" />
<line x1="391.98" y1="136.70" x2="391.98" y2="135.10" stroke="#111" stroke-width="0.6" />
<line x1="391.98" y1="17.30" x2="391.98" y2="18.90" stroke="#111" stroke-width="0.6" />
<line x1="395.09" y1="136.70" x2="395.09" y2="135.10" stroke="#111" stroke-width="0.6" />
<line x1="395.09" y1="17.30" x2="395.09" y2="18.90" stroke="#111" stroke-width="0.6" />
<line x1="397.63" y1="136.70" x2="397.63" y2="135.10" stroke="#111" stroke-width="0.6" />
<line x1="397.63" y1="17.30" x2="397.63" y2="18.90" stroke="#111" stroke-width="0.6" />
<line x1="399.78" y1="136.70" x2="399.78" y2="135.10" stroke="#111" stroke-width="0.6" />
<line x1="399.78" y1="17.30" x2="399.78" y2="18.90" stroke="#111" stroke-width="0.6" />
<line x1="401.65" y1="136.70" x2="401.65" y2="135.10" stroke="#111" stroke-width="0.6" />
<line x1="401.65" y1="17.30" x2="401.65" y2="18.90" stroke="#111" stroke-width="0.6" />
<line x1="403.29" y1="136.70" x2="403.29" y2="135.10" stroke="#111" stroke-width="0.6" />
<line x1="403.29" y1="17.30" x2="403.29" y2="18.90" stroke="#111" stroke-width="0.6" />
<line x1="404.76" y1="136.70" x2="404.76" y2="133.70" stroke="#111" stroke-width="0.8" />
<line x1="404.76" y1="17.30" x2="404.76" y2="20.30" stroke="#111" stroke-width="0.8" />
<line x1="414.43" y1="136.70" x2="414.43" y2="135.10" stroke="#111" stroke-width="0.6" />
<line x1="414.43" y1="17.30" x2="414.43" y2="18.90" stroke="#111" stroke-width="0.6" />
<line x1="420.09" y1="136.70" x2="420.09" y2="135.10" stroke="#111" stroke-width="0.6" />
<line x1="420.09" y1="17.30" x2="420.09" y2="18.90" stroke="#111" stroke-width="0.6" />
<line x1="424.10" y1="136.70" x2="424.10" y2="135.10" stroke="#111" stroke-width="0.6" />
<line x1="424.10" y1="17.30" x2="424.10" y2="18.90" stroke="#111" stroke-width="0.6" />
<line x1="427.21" y1="136.70" x2="427.21" y2="135.10" stroke="#111" stroke-width="0.6" />
<line x1="427.21" y1="17.30" x2="427.21" y2="18.90" stroke="#111" stroke-width="0.6" />
<line x1="429.75" y1="136.70" x2="429.75" y2="135.10" stroke="#111" stroke-width="0.6" />
<line x1="429.75" y1="17.30" x2="429.75" y2="18.90" stroke="#111" stroke-width="0.6" />
<line x1="431.90" y1="136.70" x2="431.90" y2="135.10" stroke="#111" stroke-width="0.6" />
<line x1="431.90" y1="17.30" x2="431.90" y2="18.90" stroke="#111" stroke-width="0.6" />
<line x1="433.77" y1="136.70" x2="433.77" y2="135.10" stroke="#111" stroke-width="0.6" />
<line x1="433.77" y1="17.30" x2="433.77" y2="18.90" stroke="#111" stroke-width="0.6" />
<line x1="435.41" y1="136.70" x2="435.41" y2="135.10" stroke="#111" stroke-width="0.6" />
<line x1="435.41" y1="17.30" x2="435.41" y2="18.90" stroke="#111" stroke-width="0.6" />
<line x1="436.88" y1="136.70" x2="436.88" y2="133.70" stroke="#111" stroke-width="0.8" />
<line x1="436.88" y1="17.30" x2="436.88" y2="20.30" stroke="#111" stroke-width="0.8" />
<line x1="446.55" y1="136.70" x2="446.55" y2="135.10" stroke="#111" stroke-width="0.6" />
<line x1="446.55" y1="17.30" x2="446.55" y2="18.90" stroke="#111" stroke-width="0.6" />
<line x1="452.21" y1="136.70" x2="452.21" y2="135.10" stroke="#111" stroke-width="0.6" />
<line x1="452.21" y1="17.30" x2="452.21" y2="18.90" stroke="#111" stroke-width="0.6" />
<line x1="456.22" y1="136.70" x2="456.22" y2="135.10" stroke="#111" stroke-width="0.6" />
<line x1="456.22" y1="17.30" x2="456.22" y2="18.90" stroke="#111" stroke-width="0.6" />
<line x1="459.33" y1="136.70" x2="459.33" y2="135.10" stroke="#111" stroke-width="0.6" />
<line x1="459.33" y1="17.30" x2="459.33" y2="18.90" stroke="#111" stroke-width="0.6" />
<line x1="461.87" y1="136.70" x2="461.87" y2="135.10" stroke="#111" stroke-width="0.6" />
<line x1="461.87" y1="17.30" x2="461.87" y2="18.90" stroke="#111" stroke-width="0.6" />
<line x1="464.02" y1="136.70" x2="464.02" y2="135.10" stroke="#111" stroke-width="0.6" />
<line x1="464.02" y1="17.30" x2="464.02" y2="18.90" stroke="#111" stroke-width="0.6" />
<line x1="465.89" y1="136.70" x2="465.89" y2="135.10" stroke="#111" stroke-width="0.6" />
<line x1="465.89" y1="17.30" x2="465.89" y2="18.90" stroke="#111" stroke-width="0.6" />
<line x1="467.53" y1="136.70" x2="467.53" y2="135.10" stroke="#111" stroke-width="0.6" />
<line x1="467.53" y1="17.30" x2="467.53" y2="18.90" stroke="#111" stroke-width="0.6" />
<line x1="469.00" y1="136.70" x2="469.00" y2="133.70" stroke="#111" stroke-width="0.8" />
<line x1="469.00" y1="17.30" x2="469.00" y2="20.30" stroke="#111" stroke-width="0.8" />
<text x="308.40" y="145.00" font-size="8.7" text-anchor="middle" font-weight="normal" fill="#111" >100</text>
<text x="340.50" y="145.00" font-size="8.7" text-anchor="middle" font-weight="normal" fill="#111" >1k</text>
<text x="373.00" y="145.00" font-size="8.7" text-anchor="middle" font-weight="normal" fill="#111" >10k</text>
<text x="404.80" y="145.00" font-size="8.7" text-anchor="middle" font-weight="normal" fill="#111" >100k</text>
<text x="437.30" y="145.00" font-size="8.7" text-anchor="middle" font-weight="normal" fill="#111" >1M</text>
<text x="469.00" y="145.00" font-size="8.7" text-anchor="middle" font-weight="normal" fill="#111" >10M</text>
<text x="392.00" y="157.60" font-size="12" text-anchor="middle" font-weight="normal" fill="#111" >Resistance (Ω)</text>
<text transform="translate(295.0,85.1) rotate(-90)" font-size="12" text-anchor="middle" fill="#111">Cumulative Probability (%)</text>
<polyline points="341.75,31.30 341.57,32.30 341.40,33.30 341.23,34.30 341.05,35.30 340.88,36.30 340.71,37.30 340.53,38.30 340.36,39.30 340.18,40.30 340.01,41.30 339.84,42.30 339.66,43.30 339.49,44.30 339.32,45.30 339.14,46.30 338.97,47.30 338.80,48.30 338.62,49.30 338.47,50.30 338.39,51.30 338.31,52.30 338.22,53.30 338.14,54.30 338.05,55.30 337.97,56.30 337.88,57.30 337.80,58.30 337.71,59.30 337.63,60.30 337.54,61.30 337.46,62.30 337.37,63.30 337.29,64.30 337.21,65.30 337.12,66.30 337.04,67.30 336.95,68.30 336.87,69.30 336.78,70.30 336.70,71.30 336.61,72.30 336.53,73.30 336.44,74.30 336.36,75.30 336.29,76.30 336.24,77.30 336.20,78.30 336.15,79.30 336.10,80.30 336.06,81.30 336.01,82.30 335.97,83.30 335.92,84.30 335.88,85.30 335.83,86.30 335.76,87.30 335.62,88.30 335.48,89.30 335.34,90.30 335.20,91.30 335.06,92.30 334.92,93.30 334.78,94.30 334.64,95.30 334.50,96.30 334.36,97.30 334.22,98.30 334.08,99.30 333.94,100.30 333.80,101.30 333.66,102.30 333.52,103.30 333.38,104.30 333.24,105.30 333.11,106.30 332.97,107.30 332.84,108.30 332.70,109.30 332.57,110.30 332.43,111.30 332.30,112.30 332.16,113.30 332.03,114.30 331.89,115.30 331.79,116.30 331.77,117.30 331.75,118.30 331.73,119.30 331.70,120.30 331.68,121.30" stroke="#e8481f" stroke-width="2.6" fill="none" stroke-linejoin="round" stroke-linecap="round" />
<circle cx="342.29" cy="22.10" r="1.15" fill="#e8481f" stroke="#e8481f" stroke-width="0.6"/>
<circle cx="342.12" cy="25.20" r="1.15" fill="#e8481f" stroke="#e8481f" stroke-width="0.6"/>
<circle cx="341.95" cy="28.30" r="1.15" fill="#e8481f" stroke="#e8481f" stroke-width="0.6"/>
<circle cx="341.75" cy="31.30" r="1.15" fill="#e8481f" stroke="#e8481f" stroke-width="0.6"/>
<polyline points="342.29,22.10 342.12,25.20 341.95,28.30 341.75,31.30" stroke="#e8481f" stroke-width="0.5" fill="none" stroke-linejoin="round" stroke-linecap="round" />
<polyline points="337.98,31.30 337.92,32.30 337.85,33.30 337.79,34.30 337.73,35.30 337.67,36.30 337.60,37.30 337.54,38.30 337.48,39.30 337.41,40.30 337.35,41.30 337.29,42.30 337.22,43.30 337.16,44.30 337.10,45.30 337.03,46.30 336.97,47.30 336.91,48.30 336.84,49.30 336.79,50.30 336.74,51.30 336.69,52.30 336.65,53.30 336.60,54.30 336.56,55.30 336.51,56.30 336.46,57.30 336.42,58.30 336.37,59.30 336.32,60.30 336.28,61.30 336.23,62.30 336.19,63.30 336.14,64.30 336.09,65.30 336.05,66.30 336.00,67.30 335.96,68.30 335.91,69.30 335.86,70.30 335.82,71.30 335.77,72.30 335.72,73.30 335.68,74.30 335.63,75.30 335.58,76.30 335.53,77.30 335.47,78.30 335.42,79.30 335.37,80.30 335.31,81.30 335.26,82.30 335.20,83.30 335.15,84.30 335.09,85.30 335.04,86.30 334.95,87.30 334.78,88.30 334.62,89.30 334.45,90.30 334.28,91.30 334.12,92.30 333.95,93.30 333.78,94.30 333.62,95.30 333.45,96.30 333.28,97.30 333.12,98.30 332.95,99.30 332.78,100.30 332.62,101.30 332.45,102.30 332.28,103.30 332.12,104.30 331.95,105.30 331.83,106.30 331.72,107.30 331.61,108.30 331.51,109.30 331.40,110.30 331.30,111.30 331.19,112.30 331.09,113.30 330.98,114.30 330.87,115.30 330.80,116.30 330.79,117.30 330.77,118.30 330.76,119.30 330.75,120.30 330.74,121.30" stroke="#111" stroke-width="2.6" fill="none" stroke-linejoin="round" stroke-linecap="round" />
<rect x="336.85" y="20.95" width="2.30" height="2.30" fill="#111" stroke="#111" stroke-width="0.6"/>
<rect x="336.85" y="24.05" width="2.30" height="2.30" fill="#111" stroke="#111" stroke-width="0.6"/>
<rect x="336.85" y="27.15" width="2.30" height="2.30" fill="#111" stroke="#111" stroke-width="0.6"/>
<rect x="336.83" y="30.15" width="2.30" height="2.30" fill="#111" stroke="#111" stroke-width="0.6"/>
<polyline points="338.00,22.10 338.00,25.20 338.00,28.30 337.98,31.30" stroke="#111" stroke-width="0.5" fill="none" stroke-linejoin="round" stroke-linecap="round" />
<polyline points="347.91,31.30 347.61,32.30 347.29,33.30 346.98,34.30 346.66,35.30 346.35,36.30 346.03,37.30 345.68,38.30 345.32,39.30 344.96,40.30 344.61,41.30 344.25,42.30 343.89,43.30 343.54,44.30 343.18,45.30 342.82,46.30 342.46,47.30 342.11,48.30 341.75,49.30 341.42,50.30 341.16,51.30 340.90,52.30 340.64,53.30 340.39,54.30 340.13,55.30 339.87,56.30 339.61,57.30 339.35,58.30 339.09,59.30 338.83,60.30 338.57,61.30 338.31,62.30 338.05,63.30 337.80,64.30 337.54,65.30 337.28,66.30 337.02,67.30 336.76,68.30 336.50,69.30 336.24,70.30 335.98,71.30 335.79,72.30 335.77,73.30 335.74,74.30 335.71,75.30 335.69,76.30 335.66,77.30 335.63,78.30 335.61,79.30 335.58,80.30 335.55,81.30 335.53,82.30 335.50,83.30 335.47,84.30 335.45,85.30 335.42,86.30 335.37,87.30 335.26,88.30 335.15,89.30 335.05,90.30 334.94,91.30 334.83,92.30 334.72,93.30 334.62,94.30 334.51,95.30 334.40,96.30 334.29,97.30 334.18,98.30 334.08,99.30 333.97,100.30 333.86,101.30 333.75,102.30 333.65,103.30 333.54,104.30 333.43,105.30 333.32,106.30 333.20,107.30 333.09,108.30 332.97,109.30 332.86,110.30 332.74,111.30 332.63,112.30 332.51,113.30 332.40,114.30 332.28,115.30 332.18,116.30 332.11,117.30 332.05,118.30 331.98,119.30 331.91,120.30 331.85,121.30" stroke="#1f3a98" stroke-width="3.2" fill="none" stroke-linejoin="round" stroke-linecap="round" />
<polygon points="349.69,20.72 348.34,23.14 351.04,23.14" fill="#1f3a98" stroke="#1f3a98" stroke-width="0.6"/>
<polygon points="349.34,23.82 347.99,26.23 350.69,26.23" fill="#1f3a98" stroke="#1f3a98" stroke-width="0.6"/>
<polygon points="348.73,26.92 347.38,29.34 350.08,29.34" fill="#1f3a98" stroke="#1f3a98" stroke-width="0.6"/>
<polygon points="347.91,29.92 346.56,32.34 349.26,32.34" fill="#1f3a98" stroke="#1f3a98" stroke-width="0.6"/>
<polyline points="349.69,22.10 349.34,25.20 348.73,28.30 347.91,31.30" stroke="#1f3a98" stroke-width="0.5" fill="none" stroke-linejoin="round" stroke-linecap="round" />
<polyline points="453.60,31.30 453.50,32.30 453.40,33.30 453.31,34.30 453.21,35.30 453.12,36.30 453.04,37.30 452.96,38.30 452.88,39.30 452.79,40.30 452.71,41.30 452.62,42.30 452.54,43.30 452.46,44.30 452.38,45.30 452.29,46.30 452.21,47.30 452.12,48.30 452.04,49.30 451.96,50.30 451.88,51.30 451.79,52.30 451.71,53.30 451.62,54.30 451.54,55.30 451.46,56.30 451.38,57.30 451.30,58.30 451.23,59.30 451.15,60.30 451.07,61.30 450.99,62.30 450.91,63.30 450.83,64.30 450.75,65.30 450.68,66.30 450.60,67.30 450.52,68.30 450.44,69.30 450.36,70.30 450.28,71.30 450.21,72.30 450.13,73.30 450.05,74.30 449.97,75.30 449.88,76.30 449.73,77.30 449.57,78.30 449.42,79.30 449.26,80.30 449.10,81.30 448.95,82.30 448.79,83.30 448.63,84.30 448.48,85.30 448.27,86.30 448.02,87.30 447.76,88.30 447.51,89.30 447.25,90.30 447.00,91.30 446.74,92.30 446.49,93.30 446.23,94.30 445.98,95.30 445.72,96.30 445.47,97.30 445.21,98.30 444.95,99.30 444.70,100.30 444.44,101.30 444.19,102.30 443.93,103.30 443.68,104.30 443.44,105.30 443.22,106.30 443.01,107.30 442.80,108.30 442.58,109.30 442.37,110.30 442.16,111.30 441.95,112.30 441.73,113.30 441.52,114.30 441.31,115.30 441.09,116.30 440.88,117.30 440.67,118.30 440.46,119.30 440.24,120.30 440.06,121.30" stroke="#e8481f" stroke-width="4.0" fill="none" stroke-linejoin="round" stroke-linecap="round" />
<circle cx="454.59" cy="22.10" r="1.15" fill="#e8481f" stroke="#e8481f" stroke-width="0.6"/>
<circle cx="454.23" cy="25.20" r="1.15" fill="#e8481f" stroke="#e8481f" stroke-width="0.6"/>
<circle cx="453.89" cy="28.30" r="1.15" fill="#e8481f" stroke="#e8481f" stroke-width="0.6"/>
<circle cx="453.60" cy="31.30" r="1.15" fill="#e8481f" stroke="#e8481f" stroke-width="0.6"/>
<polyline points="454.59,22.10 454.23,25.20 453.89,28.30 453.60,31.30" stroke="#e8481f" stroke-width="0.5" fill="none" stroke-linejoin="round" stroke-linecap="round" />
<polyline points="451.96,31.30 451.85,32.30 451.74,33.30 451.62,34.30 451.51,35.30 451.41,36.30 451.31,37.30 451.22,38.30 451.12,39.30 451.02,40.30 450.92,41.30 450.82,42.30 450.73,43.30 450.63,44.30 450.53,45.30 450.43,46.30 450.33,47.30 450.24,48.30 450.14,49.30 450.04,50.30 449.94,51.30 449.84,52.30 449.75,53.30 449.65,54.30 449.55,55.30 449.43,56.30 449.30,57.30 449.17,58.30 449.04,59.30 448.90,60.30 448.77,61.30 448.64,62.30 448.51,63.30 448.38,64.30 448.24,65.30 448.11,66.30 447.98,67.30 447.85,68.30 447.71,69.30 447.58,70.30 447.45,71.30 447.32,72.30 447.18,73.30 447.05,74.30 446.92,75.30 446.78,76.30 446.56,77.30 446.34,78.30 446.12,79.30 445.90,80.30 445.68,81.30 445.47,82.30 445.25,83.30 445.03,84.30 444.81,85.30 444.56,86.30 444.29,87.30 444.02,88.30 443.75,89.30 443.48,90.30 443.21,91.30 442.94,92.30 442.67,93.30 442.40,94.30 442.13,95.30 441.86,96.30 441.59,97.30 441.31,98.30 441.04,99.30 440.77,100.30 440.50,101.30 440.23,102.30 439.96,103.30 439.69,104.30 439.45,105.30 439.29,106.30 439.13,107.30 438.97,108.30 438.81,109.30 438.65,110.30 438.48,111.30 438.32,112.30 438.16,113.30 438.00,114.30 437.84,115.30 437.68,116.30 437.52,117.30 437.35,118.30 437.19,119.30 437.03,120.30 436.94,121.30" stroke="#111" stroke-width="3.0" fill="none" stroke-linejoin="round" stroke-linecap="round" />
<rect x="451.84" y="20.95" width="2.30" height="2.30" fill="#111" stroke="#111" stroke-width="0.6"/>
<rect x="451.49" y="24.05" width="2.30" height="2.30" fill="#111" stroke="#111" stroke-width="0.6"/>
<rect x="451.14" y="27.15" width="2.30" height="2.30" fill="#111" stroke="#111" stroke-width="0.6"/>
<rect x="450.81" y="30.15" width="2.30" height="2.30" fill="#111" stroke="#111" stroke-width="0.6"/>
<polyline points="452.99,22.10 452.64,25.20 452.29,28.30 451.96,31.30" stroke="#111" stroke-width="0.5" fill="none" stroke-linejoin="round" stroke-linecap="round" />
<polyline points="449.90,31.30 449.70,32.30 449.51,33.30 449.31,34.30 449.12,35.30 449.00,36.30 448.89,37.30 448.77,38.30 448.66,39.30 448.55,40.30 448.43,41.30 448.32,42.30 448.21,43.30 448.10,44.30 447.98,45.30 447.87,46.30 447.76,47.30 447.65,48.30 447.53,49.30 447.42,50.30 447.31,51.30 447.19,52.30 447.08,53.30 446.97,54.30 446.86,55.30 446.69,56.30 446.47,57.30 446.25,58.30 446.03,59.30 445.81,60.30 445.59,61.30 445.37,62.30 445.15,63.30 444.93,64.30 444.70,65.30 444.48,66.30 444.26,67.30 444.04,68.30 443.82,69.30 443.60,70.30 443.38,71.30 443.16,72.30 442.94,73.30 442.72,74.30 442.50,75.30 442.28,76.30 442.12,77.30 441.95,78.30 441.78,79.30 441.62,80.30 441.45,81.30 441.28,82.30 441.12,83.30 440.95,84.30 440.78,85.30 440.58,86.30 440.35,87.30 440.11,88.30 439.88,89.30 439.65,90.30 439.41,91.30 439.18,92.30 438.94,93.30 438.71,94.30 438.47,95.30 438.24,96.30 438.00,97.30 437.77,98.30 437.54,99.30 437.30,100.30 437.07,101.30 436.83,102.30 436.60,103.30 436.36,104.30 436.16,105.30 436.03,106.30 435.90,107.30 435.77,108.30 435.65,109.30 435.52,110.30 435.39,111.30 435.26,112.30 435.13,113.30 435.00,114.30 434.87,115.30 434.74,116.30 434.61,117.30 434.48,118.30 434.35,119.30 434.23,120.30 434.19,121.30" stroke="#1f3a98" stroke-width="3.4" fill="none" stroke-linejoin="round" stroke-linecap="round" />
<polygon points="451.48,20.72 450.13,23.14 452.83,23.14" fill="#1f3a98" stroke="#1f3a98" stroke-width="0.6"/>
<polygon points="450.88,23.82 449.53,26.23 452.23,26.23" fill="#1f3a98" stroke="#1f3a98" stroke-width="0.6"/>
<polygon points="450.34,26.92 448.99,29.34 451.69,29.34" fill="#1f3a98" stroke="#1f3a98" stroke-width="0.6"/>
<polygon points="449.90,29.92 448.55,32.34 451.25,32.34" fill="#1f3a98" stroke="#1f3a98" stroke-width="0.6"/>
<polyline points="451.48,22.10 450.88,25.20 450.34,28.30 449.90,31.30" stroke="#1f3a98" stroke-width="0.5" fill="none" stroke-linejoin="round" stroke-linecap="round" />
<rect x="329.55" y="124.15" width="2.30" height="2.30" fill="#111" stroke="#111" stroke-width="0.6"/>
<circle cx="331.59" cy="125.30" r="1.15" fill="#e8481f" stroke="#e8481f" stroke-width="0.6"/>
<polygon points="331.58,123.92 330.23,126.33 332.93,126.33" fill="#1f3a98" stroke="#1f3a98" stroke-width="0.6"/>
<rect x="329.51" y="127.65" width="2.30" height="2.30" fill="#111" stroke="#111" stroke-width="0.6"/>
<circle cx="331.52" cy="128.80" r="1.15" fill="#e8481f" stroke="#e8481f" stroke-width="0.6"/>
<polygon points="331.35,127.42 330.00,129.84 332.70,129.84" fill="#1f3a98" stroke="#1f3a98" stroke-width="0.6"/>
<rect x="329.47" y="131.25" width="2.30" height="2.30" fill="#111" stroke="#111" stroke-width="0.6"/>
<circle cx="331.44" cy="132.40" r="1.15" fill="#e8481f" stroke="#e8481f" stroke-width="0.6"/>
<polygon points="331.11,131.02 329.76,133.44 332.46,133.44" fill="#1f3a98" stroke="#1f3a98" stroke-width="0.6"/>
<rect x="435.49" y="124.15" width="2.30" height="2.30" fill="#111" stroke="#111" stroke-width="0.6"/>
<circle cx="439.35" cy="125.30" r="1.15" fill="#e8481f" stroke="#e8481f" stroke-width="0.6"/>
<polygon points="434.13,123.92 432.78,126.33 435.48,126.33" fill="#1f3a98" stroke="#1f3a98" stroke-width="0.6"/>
<rect x="435.24" y="127.65" width="2.30" height="2.30" fill="#111" stroke="#111" stroke-width="0.6"/>
<circle cx="438.72" cy="128.80" r="1.15" fill="#e8481f" stroke="#e8481f" stroke-width="0.6"/>
<polygon points="434.08,127.42 432.73,129.84 435.43,129.84" fill="#1f3a98" stroke="#1f3a98" stroke-width="0.6"/>
<rect x="434.97" y="131.25" width="2.30" height="2.30" fill="#111" stroke="#111" stroke-width="0.6"/>
<circle cx="438.08" cy="132.40" r="1.15" fill="#e8481f" stroke="#e8481f" stroke-width="0.6"/>
<polygon points="434.02,131.02 432.67,133.44 435.37,133.44" fill="#1f3a98" stroke="#1f3a98" stroke-width="0.6"/>
<ellipse cx="336.6" cy="86" rx="9.4" ry="4.3" fill="none" stroke="#111" stroke-width="0.9"/>
<ellipse cx="444" cy="85.8" rx="10.3" ry="4.4" fill="none" stroke="#111" stroke-width="0.9"/>
<line x1="356.20" y1="97.60" x2="348.00" y2="92.00" stroke="#111" stroke-width="0.8" />
<polygon points="346.30,90.80 350.40,91.60 348.60,94.20" fill="#111" stroke="none" stroke-width="0" />
<text x="357.20" y="104.00" font-size="10.1" text-anchor="start" font-weight="normal" fill="#111" >LRS</text>
<line x1="412.30" y1="97.40" x2="430.00" y2="90.50" stroke="#111" stroke-width="0.8" />
<polygon points="432.00,89.70 427.80,89.90 429.00,92.80" fill="#111" stroke="none" stroke-width="0" />
<text x="390.20" y="104.00" font-size="10.1" text-anchor="start" font-weight="normal" fill="#111" >HRS</text>
<line x1="340.50" y1="122.30" x2="426.50" y2="122.30" stroke="#111" stroke-width="0.8" />
<polygon points="339.50,122.30 344.50,120.60 344.50,124.00" fill="#111" stroke="none" stroke-width="0" />
<polygon points="427.50,122.30 422.50,120.60 422.50,124.00" fill="#111" stroke="none" stroke-width="0" />
<text x="381.50" y="120.30" font-size="10.5" text-anchor="middle" font-weight="normal" fill="#111" >1000X</text>
<text x="363.80" y="131.00" font-size="8.7" text-anchor="start" font-weight="normal" fill="#111" >V<tspan font-size="5.6" dy="1.5">read</tspan><tspan dy="-1.5"> = 0.1V</tspan></text>
<line x1="368.00" y1="33.20" x2="375.50" y2="33.20" stroke="#888" stroke-width="0.8" />
<line x1="383.50" y1="33.20" x2="391.30" y2="33.20" stroke="#888" stroke-width="0.8" />
<rect x="378.50" y="32.10" width="2.20" height="2.20" fill="#111" stroke="#111" stroke-width="0.6"/>
<text x="394.50" y="36.80" font-size="10" text-anchor="start" font-weight="normal" fill="#111" >Bottom</text>
<line x1="368.00" y1="45.90" x2="375.50" y2="45.90" stroke="#f0a080" stroke-width="0.8" />
<line x1="383.50" y1="45.90" x2="391.30" y2="45.90" stroke="#f0a080" stroke-width="0.8" />
<circle cx="379.60" cy="45.90" r="1.10" fill="#e8481f" stroke="#e8481f" stroke-width="0.6"/>
<text x="394.50" y="49.50" font-size="10" text-anchor="start" font-weight="normal" fill="#111" >Middle</text>
<line x1="368.00" y1="58.60" x2="375.50" y2="58.60" stroke="#8aa0d8" stroke-width="0.8" />
<line x1="383.50" y1="58.60" x2="391.30" y2="58.60" stroke="#8aa0d8" stroke-width="0.8" />
<polygon points="379.60,57.28 378.30,59.59 380.90,59.59" fill="#1f3a98" stroke="#1f3a98" stroke-width="0.6"/>
<text x="394.50" y="62.20" font-size="10" text-anchor="start" font-weight="normal" fill="#111" >Top</text>
<text x="268.90" y="13.20" font-size="15.2" text-anchor="start" font-weight="normal" fill="#111" stroke="#111" stroke-width="0.45">(b)</text>
<rect x="519.6" y="17" width="160.10" height="118.20" fill="none" stroke="#111" stroke-width="1"/>
<line x1="519.60" y1="134.30" x2="522.60" y2="134.30" stroke="#111" stroke-width="1" />
<line x1="679.70" y1="134.30" x2="676.70" y2="134.30" stroke="#111" stroke-width="1" />
<line x1="519.60" y1="106.26" x2="522.60" y2="106.26" stroke="#111" stroke-width="1" />
<line x1="679.70" y1="106.26" x2="676.70" y2="106.26" stroke="#111" stroke-width="1" />
<text x="517.50" y="109.36" font-size="8.7" text-anchor="end" font-weight="normal" fill="#111" >10</text>
<line x1="519.60" y1="78.66" x2="522.60" y2="78.66" stroke="#111" stroke-width="1" />
<line x1="679.70" y1="78.66" x2="676.70" y2="78.66" stroke="#111" stroke-width="1" />
<text x="517.50" y="81.76" font-size="8.7" text-anchor="end" font-weight="normal" fill="#111" >40</text>
<line x1="519.60" y1="57.79" x2="522.60" y2="57.79" stroke="#111" stroke-width="1" />
<line x1="679.70" y1="57.79" x2="676.70" y2="57.79" stroke="#111" stroke-width="1" />
<text x="517.50" y="60.89" font-size="8.7" text-anchor="end" font-weight="normal" fill="#111" >70</text>
<line x1="519.60" y1="27.71" x2="522.60" y2="27.71" stroke="#111" stroke-width="1" />
<line x1="679.70" y1="27.71" x2="676.70" y2="27.71" stroke="#111" stroke-width="1" />
<text x="517.50" y="30.81" font-size="8.7" text-anchor="end" font-weight="normal" fill="#111" >95</text>
<text x="517.50" y="139.20" font-size="8.7" text-anchor="end" font-weight="normal" fill="#111" >1</text>
<line x1="519.60" y1="135.20" x2="519.60" y2="132.20" stroke="#111" stroke-width="1" />
<line x1="519.60" y1="17.00" x2="519.60" y2="20.00" stroke="#111" stroke-width="1" />
<line x1="539.60" y1="135.20" x2="539.60" y2="133.40" stroke="#111" stroke-width="1" />
<line x1="539.60" y1="17.00" x2="539.60" y2="18.80" stroke="#111" stroke-width="1" />
<line x1="559.60" y1="135.20" x2="559.60" y2="132.20" stroke="#111" stroke-width="1" />
<line x1="559.60" y1="17.00" x2="559.60" y2="20.00" stroke="#111" stroke-width="1" />
<line x1="579.60" y1="135.20" x2="579.60" y2="133.40" stroke="#111" stroke-width="1" />
<line x1="579.60" y1="17.00" x2="579.60" y2="18.80" stroke="#111" stroke-width="1" />
<line x1="599.60" y1="135.20" x2="599.60" y2="132.20" stroke="#111" stroke-width="1" />
<line x1="599.60" y1="17.00" x2="599.60" y2="20.00" stroke="#111" stroke-width="1" />
<line x1="619.60" y1="135.20" x2="619.60" y2="133.40" stroke="#111" stroke-width="1" />
<line x1="619.60" y1="17.00" x2="619.60" y2="18.80" stroke="#111" stroke-width="1" />
<line x1="639.60" y1="135.20" x2="639.60" y2="132.20" stroke="#111" stroke-width="1" />
<line x1="639.60" y1="17.00" x2="639.60" y2="20.00" stroke="#111" stroke-width="1" />
<line x1="659.60" y1="135.20" x2="659.60" y2="133.40" stroke="#111" stroke-width="1" />
<line x1="659.60" y1="17.00" x2="659.60" y2="18.80" stroke="#111" stroke-width="1" />
<line x1="679.60" y1="135.20" x2="679.60" y2="132.20" stroke="#111" stroke-width="1" />
<line x1="679.60" y1="17.00" x2="679.60" y2="20.00" stroke="#111" stroke-width="1" />
<text x="519.50" y="144.80" font-size="8.7" text-anchor="middle" font-weight="normal" fill="#111" >-2</text>
<text x="559.50" y="144.80" font-size="8.7" text-anchor="middle" font-weight="normal" fill="#111" >-1</text>
<text x="599.60" y="144.80" font-size="8.7" text-anchor="middle" font-weight="normal" fill="#111" >0</text>
<text x="639.00" y="144.80" font-size="8.7" text-anchor="middle" font-weight="normal" fill="#111" >1</text>
<text x="678.50" y="144.80" font-size="8.7" text-anchor="middle" font-weight="normal" fill="#111" >2</text>
<text x="599.00" y="156.80" font-size="12.3" text-anchor="middle" font-weight="normal" fill="#111" >Switching Voltage (V)</text>
<text transform="translate(501.3,85.3) rotate(-90)" font-size="11.9" text-anchor="middle" fill="#111">Cumulative Probability (%)</text>
<polyline points="563.70,27.71 563.70,37.46 563.70,44.04 562.10,49.27 560.60,53.76 559.80,57.79 559.20,61.52 558.80,65.06 558.50,68.49 558.20,71.86 557.80,75.23 557.20,78.66 556.50,82.20 555.50,85.93 554.50,89.96 553.00,94.45 551.50,99.68 550.40,106.26 548.40,116.01" stroke="#e8481f" stroke-width="0.5" fill="none" stroke-linejoin="round" stroke-linecap="round" />
<circle cx="563.70" cy="27.71" r="1.20" fill="#e8481f" stroke="#e8481f" stroke-width="0.6"/>
<circle cx="563.70" cy="37.46" r="1.20" fill="#e8481f" stroke="#e8481f" stroke-width="0.6"/>
<circle cx="563.70" cy="44.04" r="1.20" fill="#e8481f" stroke="#e8481f" stroke-width="0.6"/>
<circle cx="562.10" cy="49.27" r="1.20" fill="#e8481f" stroke="#e8481f" stroke-width="0.6"/>
<circle cx="560.60" cy="53.76" r="1.20" fill="#e8481f" stroke="#e8481f" stroke-width="0.6"/>
<circle cx="559.80" cy="57.79" r="1.20" fill="#e8481f" stroke="#e8481f" stroke-width="0.6"/>
<circle cx="559.20" cy="61.52" r="1.20" fill="#e8481f" stroke="#e8481f" stroke-width="0.6"/>
<circle cx="558.80" cy="65.06" r="1.20" fill="#e8481f" stroke="#e8481f" stroke-width="0.6"/>
<circle cx="558.50" cy="68.49" r="1.20" fill="#e8481f" stroke="#e8481f" stroke-width="0.6"/>
<circle cx="558.20" cy="71.86" r="1.20" fill="#e8481f" stroke="#e8481f" stroke-width="0.6"/>
<circle cx="557.80" cy="75.23" r="1.20" fill="#e8481f" stroke="#e8481f" stroke-width="0.6"/>
<circle cx="557.20" cy="78.66" r="1.20" fill="#e8481f" stroke="#e8481f" stroke-width="0.6"/>
<circle cx="556.50" cy="82.20" r="1.20" fill="#e8481f" stroke="#e8481f" stroke-width="0.6"/>
<circle cx="555.50" cy="85.93" r="1.20" fill="#e8481f" stroke="#e8481f" stroke-width="0.6"/>
<circle cx="554.50" cy="89.96" r="1.20" fill="#e8481f" stroke="#e8481f" stroke-width="0.6"/>
<circle cx="553.00" cy="94.45" r="1.20" fill="#e8481f" stroke="#e8481f" stroke-width="0.6"/>
<circle cx="551.50" cy="99.68" r="1.20" fill="#e8481f" stroke="#e8481f" stroke-width="0.6"/>
<circle cx="550.40" cy="106.26" r="1.20" fill="#e8481f" stroke="#e8481f" stroke-width="0.6"/>
<circle cx="548.40" cy="116.01" r="1.20" fill="#e8481f" stroke="#e8481f" stroke-width="0.6"/>
<polyline points="559.80,27.71 559.80,37.46 559.80,44.04 559.40,49.27 559.00,53.76 558.20,57.79 557.80,61.52 557.50,65.06 557.20,68.49 557.00,71.86 556.60,75.23 556.00,78.66 555.50,82.20 554.50,85.93 553.50,89.96 552.40,94.45 551.00,99.68 549.40,106.26 545.30,116.01" stroke="#1f3a98" stroke-width="0.5" fill="none" stroke-linejoin="round" stroke-linecap="round" />
<polygon points="559.80,26.27 558.40,28.79 561.20,28.79" fill="#1f3a98" stroke="#1f3a98" stroke-width="0.6"/>
<polygon points="559.80,36.02 558.40,38.54 561.20,38.54" fill="#1f3a98" stroke="#1f3a98" stroke-width="0.6"/>
<polygon points="559.80,42.60 558.40,45.12 561.20,45.12" fill="#1f3a98" stroke="#1f3a98" stroke-width="0.6"/>
<polygon points="559.40,47.83 558.00,50.35 560.80,50.35" fill="#1f3a98" stroke="#1f3a98" stroke-width="0.6"/>
<polygon points="559.00,52.32 557.60,54.84 560.40,54.84" fill="#1f3a98" stroke="#1f3a98" stroke-width="0.6"/>
<polygon points="558.20,56.35 556.80,58.87 559.60,58.87" fill="#1f3a98" stroke="#1f3a98" stroke-width="0.6"/>
<polygon points="557.80,60.08 556.40,62.60 559.20,62.60" fill="#1f3a98" stroke="#1f3a98" stroke-width="0.6"/>
<polygon points="557.50,63.62 556.10,66.14 558.90,66.14" fill="#1f3a98" stroke="#1f3a98" stroke-width="0.6"/>
<polygon points="557.20,67.05 555.80,69.57 558.60,69.57" fill="#1f3a98" stroke="#1f3a98" stroke-width="0.6"/>
<polygon points="557.00,70.42 555.60,72.94 558.40,72.94" fill="#1f3a98" stroke="#1f3a98" stroke-width="0.6"/>
<polygon points="556.60,73.79 555.20,76.31 558.00,76.31" fill="#1f3a98" stroke="#1f3a98" stroke-width="0.6"/>
<polygon points="556.00,77.22 554.60,79.74 557.40,79.74" fill="#1f3a98" stroke="#1f3a98" stroke-width="0.6"/>
<polygon points="555.50,80.76 554.10,83.28 556.90,83.28" fill="#1f3a98" stroke="#1f3a98" stroke-width="0.6"/>
<polygon points="554.50,84.49 553.10,87.01 555.90,87.01" fill="#1f3a98" stroke="#1f3a98" stroke-width="0.6"/>
<polygon points="553.50,88.52 552.10,91.04 554.90,91.04" fill="#1f3a98" stroke="#1f3a98" stroke-width="0.6"/>
<polygon points="552.40,93.01 551.00,95.53 553.80,95.53" fill="#1f3a98" stroke="#1f3a98" stroke-width="0.6"/>
<polygon points="551.00,98.24 549.60,100.76 552.40,100.76" fill="#1f3a98" stroke="#1f3a98" stroke-width="0.6"/>
<polygon points="549.40,104.82 548.00,107.34 550.80,107.34" fill="#1f3a98" stroke="#1f3a98" stroke-width="0.6"/>
<polygon points="545.30,114.57 543.90,117.09 546.70,117.09" fill="#1f3a98" stroke="#1f3a98" stroke-width="0.6"/>
<polyline points="558.20,27.71 558.20,37.46 558.20,44.04 557.40,49.27 556.60,53.76 554.30,57.79 553.50,61.52 552.70,65.06 552.40,68.49 552.40,71.86 552.40,75.23 551.00,78.66 549.40,82.20 547.00,85.93 545.30,89.96 541.80,94.45 541.20,99.68 538.20,106.26 537.80,116.01" stroke="#111" stroke-width="0.5" fill="none" stroke-linejoin="round" stroke-linecap="round" />
<rect x="557.00" y="26.51" width="2.40" height="2.40" fill="#111" stroke="#111" stroke-width="0.6"/>
<rect x="557.00" y="36.26" width="2.40" height="2.40" fill="#111" stroke="#111" stroke-width="0.6"/>
<rect x="557.00" y="42.84" width="2.40" height="2.40" fill="#111" stroke="#111" stroke-width="0.6"/>
<rect x="556.20" y="48.07" width="2.40" height="2.40" fill="#111" stroke="#111" stroke-width="0.6"/>
<rect x="555.40" y="52.56" width="2.40" height="2.40" fill="#111" stroke="#111" stroke-width="0.6"/>
<rect x="553.10" y="56.59" width="2.40" height="2.40" fill="#111" stroke="#111" stroke-width="0.6"/>
<rect x="552.30" y="60.32" width="2.40" height="2.40" fill="#111" stroke="#111" stroke-width="0.6"/>
<rect x="551.50" y="63.86" width="2.40" height="2.40" fill="#111" stroke="#111" stroke-width="0.6"/>
<rect x="551.20" y="67.29" width="2.40" height="2.40" fill="#111" stroke="#111" stroke-width="0.6"/>
<rect x="551.20" y="70.66" width="2.40" height="2.40" fill="#111" stroke="#111" stroke-width="0.6"/>
<rect x="551.20" y="74.03" width="2.40" height="2.40" fill="#111" stroke="#111" stroke-width="0.6"/>
<rect x="549.80" y="77.46" width="2.40" height="2.40" fill="#111" stroke="#111" stroke-width="0.6"/>
<rect x="548.20" y="81.00" width="2.40" height="2.40" fill="#111" stroke="#111" stroke-width="0.6"/>
<rect x="545.80" y="84.73" width="2.40" height="2.40" fill="#111" stroke="#111" stroke-width="0.6"/>
<rect x="544.10" y="88.76" width="2.40" height="2.40" fill="#111" stroke="#111" stroke-width="0.6"/>
<rect x="540.60" y="93.25" width="2.40" height="2.40" fill="#111" stroke="#111" stroke-width="0.6"/>
<rect x="540.00" y="98.48" width="2.40" height="2.40" fill="#111" stroke="#111" stroke-width="0.6"/>
<rect x="537.00" y="105.06" width="2.40" height="2.40" fill="#111" stroke="#111" stroke-width="0.6"/>
<rect x="536.60" y="114.81" width="2.40" height="2.40" fill="#111" stroke="#111" stroke-width="0.6"/>
<polyline points="662.80,27.71 649.70,37.46 646.40,44.04 645.40,49.27 644.50,53.76 643.50,57.79 642.50,61.52 641.60,65.06 640.80,68.49 640.00,71.86 639.30,75.23 638.60,78.66 638.00,82.20 637.40,85.93 636.90,89.96 636.40,94.45 635.90,99.68 635.40,106.26 635.00,116.01" stroke="#111" stroke-width="0.5" fill="none" stroke-linejoin="round" stroke-linecap="round" />
<rect x="661.60" y="26.51" width="2.40" height="2.40" fill="#111" stroke="#111" stroke-width="0.6"/>
<rect x="648.50" y="36.26" width="2.40" height="2.40" fill="#111" stroke="#111" stroke-width="0.6"/>
<rect x="645.20" y="42.84" width="2.40" height="2.40" fill="#111" stroke="#111" stroke-width="0.6"/>
<rect x="644.20" y="48.07" width="2.40" height="2.40" fill="#111" stroke="#111" stroke-width="0.6"/>
<rect x="643.30" y="52.56" width="2.40" height="2.40" fill="#111" stroke="#111" stroke-width="0.6"/>
<rect x="642.30" y="56.59" width="2.40" height="2.40" fill="#111" stroke="#111" stroke-width="0.6"/>
<rect x="641.30" y="60.32" width="2.40" height="2.40" fill="#111" stroke="#111" stroke-width="0.6"/>
<rect x="640.40" y="63.86" width="2.40" height="2.40" fill="#111" stroke="#111" stroke-width="0.6"/>
<rect x="639.60" y="67.29" width="2.40" height="2.40" fill="#111" stroke="#111" stroke-width="0.6"/>
<rect x="638.80" y="70.66" width="2.40" height="2.40" fill="#111" stroke="#111" stroke-width="0.6"/>
<rect x="638.10" y="74.03" width="2.40" height="2.40" fill="#111" stroke="#111" stroke-width="0.6"/>
<rect x="637.40" y="77.46" width="2.40" height="2.40" fill="#111" stroke="#111" stroke-width="0.6"/>
<rect x="636.80" y="81.00" width="2.40" height="2.40" fill="#111" stroke="#111" stroke-width="0.6"/>
<rect x="636.20" y="84.73" width="2.40" height="2.40" fill="#111" stroke="#111" stroke-width="0.6"/>
<rect x="635.70" y="88.76" width="2.40" height="2.40" fill="#111" stroke="#111" stroke-width="0.6"/>
<rect x="635.20" y="93.25" width="2.40" height="2.40" fill="#111" stroke="#111" stroke-width="0.6"/>
<rect x="634.70" y="98.48" width="2.40" height="2.40" fill="#111" stroke="#111" stroke-width="0.6"/>
<rect x="634.20" y="105.06" width="2.40" height="2.40" fill="#111" stroke="#111" stroke-width="0.6"/>
<rect x="633.80" y="114.81" width="2.40" height="2.40" fill="#111" stroke="#111" stroke-width="0.6"/>
<polyline points="641.40,27.71 641.00,37.46 640.60,44.04 640.20,49.27 639.80,53.76 639.40,57.79 639.00,61.52 638.60,65.06 638.20,68.49 637.80,71.86 637.40,75.23 637.00,78.66 636.70,82.20 636.30,85.93 636.00,89.96 635.60,94.45 635.30,99.68 634.90,106.26 634.50,116.01" stroke="#e8481f" stroke-width="0.5" fill="none" stroke-linejoin="round" stroke-linecap="round" />
<circle cx="641.40" cy="27.71" r="1.20" fill="#e8481f" stroke="#e8481f" stroke-width="0.6"/>
<circle cx="641.00" cy="37.46" r="1.20" fill="#e8481f" stroke="#e8481f" stroke-width="0.6"/>
<circle cx="640.60" cy="44.04" r="1.20" fill="#e8481f" stroke="#e8481f" stroke-width="0.6"/>
<circle cx="640.20" cy="49.27" r="1.20" fill="#e8481f" stroke="#e8481f" stroke-width="0.6"/>
<circle cx="639.80" cy="53.76" r="1.20" fill="#e8481f" stroke="#e8481f" stroke-width="0.6"/>
<circle cx="639.40" cy="57.79" r="1.20" fill="#e8481f" stroke="#e8481f" stroke-width="0.6"/>
<circle cx="639.00" cy="61.52" r="1.20" fill="#e8481f" stroke="#e8481f" stroke-width="0.6"/>
<circle cx="638.60" cy="65.06" r="1.20" fill="#e8481f" stroke="#e8481f" stroke-width="0.6"/>
<circle cx="638.20" cy="68.49" r="1.20" fill="#e8481f" stroke="#e8481f" stroke-width="0.6"/>
<circle cx="637.80" cy="71.86" r="1.20" fill="#e8481f" stroke="#e8481f" stroke-width="0.6"/>
<circle cx="637.40" cy="75.23" r="1.20" fill="#e8481f" stroke="#e8481f" stroke-width="0.6"/>
<circle cx="637.00" cy="78.66" r="1.20" fill="#e8481f" stroke="#e8481f" stroke-width="0.6"/>
<circle cx="636.70" cy="82.20" r="1.20" fill="#e8481f" stroke="#e8481f" stroke-width="0.6"/>
<circle cx="636.30" cy="85.93" r="1.20" fill="#e8481f" stroke="#e8481f" stroke-width="0.6"/>
<circle cx="636.00" cy="89.96" r="1.20" fill="#e8481f" stroke="#e8481f" stroke-width="0.6"/>
<circle cx="635.60" cy="94.45" r="1.20" fill="#e8481f" stroke="#e8481f" stroke-width="0.6"/>
<circle cx="635.30" cy="99.68" r="1.20" fill="#e8481f" stroke="#e8481f" stroke-width="0.6"/>
<circle cx="634.90" cy="106.26" r="1.20" fill="#e8481f" stroke="#e8481f" stroke-width="0.6"/>
<circle cx="634.50" cy="116.01" r="1.20" fill="#e8481f" stroke="#e8481f" stroke-width="0.6"/>
<polyline points="641.60,27.71 641.20,37.46 640.80,44.04 640.40,49.27 640.00,53.76 639.60,57.79 639.20,61.52 638.80,65.06 638.40,68.49 638.00,71.86 637.70,75.23 637.40,78.66 637.10,82.20 636.80,85.93 636.50,89.96 636.20,94.45 635.90,99.68 635.60,106.26 635.20,116.01" stroke="#1f3a98" stroke-width="0.5" fill="none" stroke-linejoin="round" stroke-linecap="round" />
<polygon points="641.60,26.27 640.20,28.79 643.00,28.79" fill="#1f3a98" stroke="#1f3a98" stroke-width="0.6"/>
<polygon points="641.20,36.02 639.80,38.54 642.60,38.54" fill="#1f3a98" stroke="#1f3a98" stroke-width="0.6"/>
<polygon points="640.80,42.60 639.40,45.12 642.20,45.12" fill="#1f3a98" stroke="#1f3a98" stroke-width="0.6"/>
<polygon points="640.40,47.83 639.00,50.35 641.80,50.35" fill="#1f3a98" stroke="#1f3a98" stroke-width="0.6"/>
<polygon points="640.00,52.32 638.60,54.84 641.40,54.84" fill="#1f3a98" stroke="#1f3a98" stroke-width="0.6"/>
<polygon points="639.60,56.35 638.20,58.87 641.00,58.87" fill="#1f3a98" stroke="#1f3a98" stroke-width="0.6"/>
<polygon points="639.20,60.08 637.80,62.60 640.60,62.60" fill="#1f3a98" stroke="#1f3a98" stroke-width="0.6"/>
<polygon points="638.80,63.62 637.40,66.14 640.20,66.14" fill="#1f3a98" stroke="#1f3a98" stroke-width="0.6"/>
<polygon points="638.40,67.05 637.00,69.57 639.80,69.57" fill="#1f3a98" stroke="#1f3a98" stroke-width="0.6"/>
<polygon points="638.00,70.42 636.60,72.94 639.40,72.94" fill="#1f3a98" stroke="#1f3a98" stroke-width="0.6"/>
<polygon points="637.70,73.79 636.30,76.31 639.10,76.31" fill="#1f3a98" stroke="#1f3a98" stroke-width="0.6"/>
<polygon points="637.40,77.22 636.00,79.74 638.80,79.74" fill="#1f3a98" stroke="#1f3a98" stroke-width="0.6"/>
<polygon points="637.10,80.76 635.70,83.28 638.50,83.28" fill="#1f3a98" stroke="#1f3a98" stroke-width="0.6"/>
<polygon points="636.80,84.49 635.40,87.01 638.20,87.01" fill="#1f3a98" stroke="#1f3a98" stroke-width="0.6"/>
<polygon points="636.50,88.52 635.10,91.04 637.90,91.04" fill="#1f3a98" stroke="#1f3a98" stroke-width="0.6"/>
<polygon points="636.20,93.01 634.80,95.53 637.60,95.53" fill="#1f3a98" stroke="#1f3a98" stroke-width="0.6"/>
<polygon points="635.90,98.24 634.50,100.76 637.30,100.76" fill="#1f3a98" stroke="#1f3a98" stroke-width="0.6"/>
<polygon points="635.60,104.82 634.20,107.34 637.00,107.34" fill="#1f3a98" stroke="#1f3a98" stroke-width="0.6"/>
<polygon points="635.20,114.57 633.80,117.09 636.60,117.09" fill="#1f3a98" stroke="#1f3a98" stroke-width="0.6"/>
<ellipse cx="550.4" cy="87" rx="13.3" ry="4.1" fill="none" stroke="#111" stroke-width="0.9"/>
<ellipse cx="639.5" cy="87.4" rx="14.7" ry="4.9" fill="none" stroke="#111" stroke-width="0.9"/>
<line x1="572.00" y1="101.00" x2="562.50" y2="92.50" stroke="#111" stroke-width="0.8" />
<polygon points="561.30,91.30 565.40,92.60 563.50,94.80" fill="#111" stroke="none" stroke-width="0" />
<text x="563.30" y="111.20" font-size="9.8" text-anchor="start" font-weight="normal" fill="#111" >SET</text>
<line x1="612.00" y1="100.50" x2="623.50" y2="93.30" stroke="#111" stroke-width="0.8" />
<polygon points="625.20,92.20 621.00,92.90 622.40,95.40" fill="#111" stroke="none" stroke-width="0" />
<text x="596.70" y="111.20" font-size="9.8" text-anchor="start" font-weight="normal" fill="#111" >RESET</text>
<line x1="574.20" y1="31.60" x2="582.70" y2="31.60" stroke="#666" stroke-width="0.8" />
<line x1="590.50" y1="31.60" x2="598.20" y2="31.60" stroke="#666" stroke-width="0.8" />
<rect x="585.10" y="30.50" width="2.20" height="2.20" fill="#111" stroke="#111" stroke-width="0.6"/>
<text x="600.80" y="35.20" font-size="10" text-anchor="start" font-weight="normal" fill="#111" >Bottom</text>
<line x1="574.20" y1="44.50" x2="582.70" y2="44.50" stroke="#f08060" stroke-width="0.8" />
<line x1="590.50" y1="44.50" x2="598.20" y2="44.50" stroke="#f08060" stroke-width="0.8" />
<circle cx="586.20" cy="44.50" r="1.10" fill="#e8481f" stroke="#e8481f" stroke-width="0.6"/>
<text x="600.80" y="48.10" font-size="10" text-anchor="start" font-weight="normal" fill="#111" >Middle</text>
<line x1="574.20" y1="57.40" x2="582.70" y2="57.40" stroke="#7088c8" stroke-width="0.8" />
<line x1="590.50" y1="57.40" x2="598.20" y2="57.40" stroke="#7088c8" stroke-width="0.8" />
<polygon points="586.20,56.08 584.90,58.39 587.50,58.39" fill="#1f3a98" stroke="#1f3a98" stroke-width="0.6"/>
<text x="600.80" y="61.00" font-size="10" text-anchor="start" font-weight="normal" fill="#111" >Top</text>
<text x="474.80" y="13.75" font-size="15" text-anchor="start" font-weight="normal" fill="#111" stroke="#111" stroke-width="0.45">(c)</text>
<rect x="313.1" y="174.0" width="158.90" height="119.00" fill="none" stroke="#111" stroke-width="1"/>
<line x1="313.10" y1="291.98" x2="316.10" y2="291.98" stroke="#111" stroke-width="1" />
<line x1="472.00" y1="291.98" x2="469.00" y2="291.98" stroke="#111" stroke-width="1" />
<line x1="313.10" y1="273.95" x2="314.90" y2="273.95" stroke="#111" stroke-width="1" />
<line x1="472.00" y1="273.95" x2="470.20" y2="273.95" stroke="#111" stroke-width="1" />
<line x1="313.10" y1="255.92" x2="316.10" y2="255.92" stroke="#111" stroke-width="1" />
<line x1="472.00" y1="255.92" x2="469.00" y2="255.92" stroke="#111" stroke-width="1" />
<line x1="313.10" y1="237.89" x2="314.90" y2="237.89" stroke="#111" stroke-width="1" />
<line x1="472.00" y1="237.89" x2="470.20" y2="237.89" stroke="#111" stroke-width="1" />
<line x1="313.10" y1="219.86" x2="316.10" y2="219.86" stroke="#111" stroke-width="1" />
<line x1="472.00" y1="219.86" x2="469.00" y2="219.86" stroke="#111" stroke-width="1" />
<line x1="313.10" y1="201.83" x2="314.90" y2="201.83" stroke="#111" stroke-width="1" />
<line x1="472.00" y1="201.83" x2="470.20" y2="201.83" stroke="#111" stroke-width="1" />
<line x1="313.10" y1="183.80" x2="316.10" y2="183.80" stroke="#111" stroke-width="1" />
<line x1="472.00" y1="183.80" x2="469.00" y2="183.80" stroke="#111" stroke-width="1" />
<text x="311.30" y="186.30" font-size="8.7" text-anchor="end" font-weight="normal" fill="#111" >100M</text>
<text x="311.30" y="222.36" font-size="8.7" text-anchor="end" font-weight="normal" fill="#111" >1M</text>
<text x="311.30" y="258.42" font-size="8.7" text-anchor="end" font-weight="normal" fill="#111" >10k</text>
<text x="311.30" y="294.48" font-size="8.7" text-anchor="end" font-weight="normal" fill="#111" >100</text>
<line x1="313.10" y1="293.00" x2="313.10" y2="290.00" stroke="#111" stroke-width="1" />
<line x1="313.10" y1="174.00" x2="313.10" y2="177.00" stroke="#111" stroke-width="1" />
<line x1="317.88" y1="293.00" x2="317.88" y2="291.70" stroke="#111" stroke-width="0.6" />
<line x1="317.88" y1="174.00" x2="317.88" y2="175.30" stroke="#111" stroke-width="0.6" />
<line x1="320.68" y1="293.00" x2="320.68" y2="291.70" stroke="#111" stroke-width="0.6" />
<line x1="320.68" y1="174.00" x2="320.68" y2="175.30" stroke="#111" stroke-width="0.6" />
<line x1="322.67" y1="293.00" x2="322.67" y2="291.70" stroke="#111" stroke-width="0.6" />
<line x1="322.67" y1="174.00" x2="322.67" y2="175.30" stroke="#111" stroke-width="0.6" />
<line x1="324.21" y1="293.00" x2="324.21" y2="291.70" stroke="#111" stroke-width="0.6" />
<line x1="324.21" y1="174.00" x2="324.21" y2="175.30" stroke="#111" stroke-width="0.6" />
<line x1="325.46" y1="293.00" x2="325.46" y2="291.70" stroke="#111" stroke-width="0.6" />
<line x1="325.46" y1="174.00" x2="325.46" y2="175.30" stroke="#111" stroke-width="0.6" />
<line x1="326.53" y1="293.00" x2="326.53" y2="291.70" stroke="#111" stroke-width="0.6" />
<line x1="326.53" y1="174.00" x2="326.53" y2="175.30" stroke="#111" stroke-width="0.6" />
<line x1="327.45" y1="293.00" x2="327.45" y2="291.70" stroke="#111" stroke-width="0.6" />
<line x1="327.45" y1="174.00" x2="327.45" y2="175.30" stroke="#111" stroke-width="0.6" />
<line x1="328.26" y1="293.00" x2="328.26" y2="291.70" stroke="#111" stroke-width="0.6" />
<line x1="328.26" y1="174.00" x2="328.26" y2="175.30" stroke="#111" stroke-width="0.6" />
<line x1="328.99" y1="293.00" x2="328.99" y2="291.20" stroke="#111" stroke-width="1" />
<line x1="328.99" y1="174.00" x2="328.99" y2="175.80" stroke="#111" stroke-width="1" />
<line x1="333.77" y1="293.00" x2="333.77" y2="291.70" stroke="#111" stroke-width="0.6" />
<line x1="333.77" y1="174.00" x2="333.77" y2="175.30" stroke="#111" stroke-width="0.6" />
<line x1="336.57" y1="293.00" x2="336.57" y2="291.70" stroke="#111" stroke-width="0.6" />
<line x1="336.57" y1="174.00" x2="336.57" y2="175.30" stroke="#111" stroke-width="0.6" />
<line x1="338.56" y1="293.00" x2="338.56" y2="291.70" stroke="#111" stroke-width="0.6" />
<line x1="338.56" y1="174.00" x2="338.56" y2="175.30" stroke="#111" stroke-width="0.6" />
<line x1="340.10" y1="293.00" x2="340.10" y2="291.70" stroke="#111" stroke-width="0.6" />
<line x1="340.10" y1="174.00" x2="340.10" y2="175.30" stroke="#111" stroke-width="0.6" />
<line x1="341.35" y1="293.00" x2="341.35" y2="291.70" stroke="#111" stroke-width="0.6" />
<line x1="341.35" y1="174.00" x2="341.35" y2="175.30" stroke="#111" stroke-width="0.6" />
<line x1="342.42" y1="293.00" x2="342.42" y2="291.70" stroke="#111" stroke-width="0.6" />
<line x1="342.42" y1="174.00" x2="342.42" y2="175.30" stroke="#111" stroke-width="0.6" />
<line x1="343.34" y1="293.00" x2="343.34" y2="291.70" stroke="#111" stroke-width="0.6" />
<line x1="343.34" y1="174.00" x2="343.34" y2="175.30" stroke="#111" stroke-width="0.6" />
<line x1="344.15" y1="293.00" x2="344.15" y2="291.70" stroke="#111" stroke-width="0.6" />
<line x1="344.15" y1="174.00" x2="344.15" y2="175.30" stroke="#111" stroke-width="0.6" />
<line x1="344.88" y1="293.00" x2="344.88" y2="290.00" stroke="#111" stroke-width="1" />
<line x1="344.88" y1="174.00" x2="344.88" y2="177.00" stroke="#111" stroke-width="1" />
<line x1="349.66" y1="293.00" x2="349.66" y2="291.70" stroke="#111" stroke-width="0.6" />
<line x1="349.66" y1="174.00" x2="349.66" y2="175.30" stroke="#111" stroke-width="0.6" />
<line x1="352.46" y1="293.00" x2="352.46" y2="291.70" stroke="#111" stroke-width="0.6" />
<line x1="352.46" y1="174.00" x2="352.46" y2="175.30" stroke="#111" stroke-width="0.6" />
<line x1="354.45" y1="293.00" x2="354.45" y2="291.70" stroke="#111" stroke-width="0.6" />
<line x1="354.45" y1="174.00" x2="354.45" y2="175.30" stroke="#111" stroke-width="0.6" />
<line x1="355.99" y1="293.00" x2="355.99" y2="291.70" stroke="#111" stroke-width="0.6" />
<line x1="355.99" y1="174.00" x2="355.99" y2="175.30" stroke="#111" stroke-width="0.6" />
<line x1="357.24" y1="293.00" x2="357.24" y2="291.70" stroke="#111" stroke-width="0.6" />
<line x1="357.24" y1="174.00" x2="357.24" y2="175.30" stroke="#111" stroke-width="0.6" />
<line x1="358.31" y1="293.00" x2="358.31" y2="291.70" stroke="#111" stroke-width="0.6" />
<line x1="358.31" y1="174.00" x2="358.31" y2="175.30" stroke="#111" stroke-width="0.6" />
<line x1="359.23" y1="293.00" x2="359.23" y2="291.70" stroke="#111" stroke-width="0.6" />
<line x1="359.23" y1="174.00" x2="359.23" y2="175.30" stroke="#111" stroke-width="0.6" />
<line x1="360.04" y1="293.00" x2="360.04" y2="291.70" stroke="#111" stroke-width="0.6" />
<line x1="360.04" y1="174.00" x2="360.04" y2="175.30" stroke="#111" stroke-width="0.6" />
<line x1="360.77" y1="293.00" x2="360.77" y2="291.20" stroke="#111" stroke-width="1" />
<line x1="360.77" y1="174.00" x2="360.77" y2="175.80" stroke="#111" stroke-width="1" />
<line x1="365.55" y1="293.00" x2="365.55" y2="291.70" stroke="#111" stroke-width="0.6" />
<line x1="365.55" y1="174.00" x2="365.55" y2="175.30" stroke="#111" stroke-width="0.6" />
<line x1="368.35" y1="293.00" x2="368.35" y2="291.70" stroke="#111" stroke-width="0.6" />
<line x1="368.35" y1="174.00" x2="368.35" y2="175.30" stroke="#111" stroke-width="0.6" />
<line x1="370.34" y1="293.00" x2="370.34" y2="291.70" stroke="#111" stroke-width="0.6" />
<line x1="370.34" y1="174.00" x2="370.34" y2="175.30" stroke="#111" stroke-width="0.6" />
<line x1="371.88" y1="293.00" x2="371.88" y2="291.70" stroke="#111" stroke-width="0.6" />
<line x1="371.88" y1="174.00" x2="371.88" y2="175.30" stroke="#111" stroke-width="0.6" />
<line x1="373.13" y1="293.00" x2="373.13" y2="291.70" stroke="#111" stroke-width="0.6" />
<line x1="373.13" y1="174.00" x2="373.13" y2="175.30" stroke="#111" stroke-width="0.6" />
<line x1="374.20" y1="293.00" x2="374.20" y2="291.70" stroke="#111" stroke-width="0.6" />
<line x1="374.20" y1="174.00" x2="374.20" y2="175.30" stroke="#111" stroke-width="0.6" />
<line x1="375.12" y1="293.00" x2="375.12" y2="291.70" stroke="#111" stroke-width="0.6" />
<line x1="375.12" y1="174.00" x2="375.12" y2="175.30" stroke="#111" stroke-width="0.6" />
<line x1="375.93" y1="293.00" x2="375.93" y2="291.70" stroke="#111" stroke-width="0.6" />
<line x1="375.93" y1="174.00" x2="375.93" y2="175.30" stroke="#111" stroke-width="0.6" />
<line x1="376.66" y1="293.00" x2="376.66" y2="290.00" stroke="#111" stroke-width="1" />
<line x1="376.66" y1="174.00" x2="376.66" y2="177.00" stroke="#111" stroke-width="1" />
<line x1="381.44" y1="293.00" x2="381.44" y2="291.70" stroke="#111" stroke-width="0.6" />
<line x1="381.44" y1="174.00" x2="381.44" y2="175.30" stroke="#111" stroke-width="0.6" />
<line x1="384.24" y1="293.00" x2="384.24" y2="291.70" stroke="#111" stroke-width="0.6" />
<line x1="384.24" y1="174.00" x2="384.24" y2="175.30" stroke="#111" stroke-width="0.6" />
<line x1="386.23" y1="293.00" x2="386.23" y2="291.70" stroke="#111" stroke-width="0.6" />
<line x1="386.23" y1="174.00" x2="386.23" y2="175.30" stroke="#111" stroke-width="0.6" />
<line x1="387.77" y1="293.00" x2="387.77" y2="291.70" stroke="#111" stroke-width="0.6" />
<line x1="387.77" y1="174.00" x2="387.77" y2="175.30" stroke="#111" stroke-width="0.6" />
<line x1="389.02" y1="293.00" x2="389.02" y2="291.70" stroke="#111" stroke-width="0.6" />
<line x1="389.02" y1="174.00" x2="389.02" y2="175.30" stroke="#111" stroke-width="0.6" />
<line x1="390.09" y1="293.00" x2="390.09" y2="291.70" stroke="#111" stroke-width="0.6" />
<line x1="390.09" y1="174.00" x2="390.09" y2="175.30" stroke="#111" stroke-width="0.6" />
<line x1="391.01" y1="293.00" x2="391.01" y2="291.70" stroke="#111" stroke-width="0.6" />
<line x1="391.01" y1="174.00" x2="391.01" y2="175.30" stroke="#111" stroke-width="0.6" />
<line x1="391.82" y1="293.00" x2="391.82" y2="291.70" stroke="#111" stroke-width="0.6" />
<line x1="391.82" y1="174.00" x2="391.82" y2="175.30" stroke="#111" stroke-width="0.6" />
<line x1="392.55" y1="293.00" x2="392.55" y2="291.20" stroke="#111" stroke-width="1" />
<line x1="392.55" y1="174.00" x2="392.55" y2="175.80" stroke="#111" stroke-width="1" />
<line x1="397.33" y1="293.00" x2="397.33" y2="291.70" stroke="#111" stroke-width="0.6" />
<line x1="397.33" y1="174.00" x2="397.33" y2="175.30" stroke="#111" stroke-width="0.6" />
<line x1="400.13" y1="293.00" x2="400.13" y2="291.70" stroke="#111" stroke-width="0.6" />
<line x1="400.13" y1="174.00" x2="400.13" y2="175.30" stroke="#111" stroke-width="0.6" />
<line x1="402.12" y1="293.00" x2="402.12" y2="291.70" stroke="#111" stroke-width="0.6" />
<line x1="402.12" y1="174.00" x2="402.12" y2="175.30" stroke="#111" stroke-width="0.6" />
<line x1="403.66" y1="293.00" x2="403.66" y2="291.70" stroke="#111" stroke-width="0.6" />
<line x1="403.66" y1="174.00" x2="403.66" y2="175.30" stroke="#111" stroke-width="0.6" />
<line x1="404.91" y1="293.00" x2="404.91" y2="291.70" stroke="#111" stroke-width="0.6" />
<line x1="404.91" y1="174.00" x2="404.91" y2="175.30" stroke="#111" stroke-width="0.6" />
<line x1="405.98" y1="293.00" x2="405.98" y2="291.70" stroke="#111" stroke-width="0.6" />
<line x1="405.98" y1="174.00" x2="405.98" y2="175.30" stroke="#111" stroke-width="0.6" />
<line x1="406.90" y1="293.00" x2="406.90" y2="291.70" stroke="#111" stroke-width="0.6" />
<line x1="406.90" y1="174.00" x2="406.90" y2="175.30" stroke="#111" stroke-width="0.6" />
<line x1="407.71" y1="293.00" x2="407.71" y2="291.70" stroke="#111" stroke-width="0.6" />
<line x1="407.71" y1="174.00" x2="407.71" y2="175.30" stroke="#111" stroke-width="0.6" />
<line x1="408.44" y1="293.00" x2="408.44" y2="290.00" stroke="#111" stroke-width="1" />
<line x1="408.44" y1="174.00" x2="408.44" y2="177.00" stroke="#111" stroke-width="1" />
<line x1="413.22" y1="293.00" x2="413.22" y2="291.70" stroke="#111" stroke-width="0.6" />
<line x1="413.22" y1="174.00" x2="413.22" y2="175.30" stroke="#111" stroke-width="0.6" />
<line x1="416.02" y1="293.00" x2="416.02" y2="291.70" stroke="#111" stroke-width="0.6" />
<line x1="416.02" y1="174.00" x2="416.02" y2="175.30" stroke="#111" stroke-width="0.6" />
<line x1="418.01" y1="293.00" x2="418.01" y2="291.70" stroke="#111" stroke-width="0.6" />
<line x1="418.01" y1="174.00" x2="418.01" y2="175.30" stroke="#111" stroke-width="0.6" />
<line x1="419.55" y1="293.00" x2="419.55" y2="291.70" stroke="#111" stroke-width="0.6" />
<line x1="419.55" y1="174.00" x2="419.55" y2="175.30" stroke="#111" stroke-width="0.6" />
<line x1="420.80" y1="293.00" x2="420.80" y2="291.70" stroke="#111" stroke-width="0.6" />
<line x1="420.80" y1="174.00" x2="420.80" y2="175.30" stroke="#111" stroke-width="0.6" />
<line x1="421.87" y1="293.00" x2="421.87" y2="291.70" stroke="#111" stroke-width="0.6" />
<line x1="421.87" y1="174.00" x2="421.87" y2="175.30" stroke="#111" stroke-width="0.6" />
<line x1="422.79" y1="293.00" x2="422.79" y2="291.70" stroke="#111" stroke-width="0.6" />
<line x1="422.79" y1="174.00" x2="422.79" y2="175.30" stroke="#111" stroke-width="0.6" />
<line x1="423.60" y1="293.00" x2="423.60" y2="291.70" stroke="#111" stroke-width="0.6" />
<line x1="423.60" y1="174.00" x2="423.60" y2="175.30" stroke="#111" stroke-width="0.6" />
<line x1="424.33" y1="293.00" x2="424.33" y2="291.20" stroke="#111" stroke-width="1" />
<line x1="424.33" y1="174.00" x2="424.33" y2="175.80" stroke="#111" stroke-width="1" />
<line x1="429.11" y1="293.00" x2="429.11" y2="291.70" stroke="#111" stroke-width="0.6" />
<line x1="429.11" y1="174.00" x2="429.11" y2="175.30" stroke="#111" stroke-width="0.6" />
<line x1="431.91" y1="293.00" x2="431.91" y2="291.70" stroke="#111" stroke-width="0.6" />
<line x1="431.91" y1="174.00" x2="431.91" y2="175.30" stroke="#111" stroke-width="0.6" />
<line x1="433.90" y1="293.00" x2="433.90" y2="291.70" stroke="#111" stroke-width="0.6" />
<line x1="433.90" y1="174.00" x2="433.90" y2="175.30" stroke="#111" stroke-width="0.6" />
<line x1="435.44" y1="293.00" x2="435.44" y2="291.70" stroke="#111" stroke-width="0.6" />
<line x1="435.44" y1="174.00" x2="435.44" y2="175.30" stroke="#111" stroke-width="0.6" />
<line x1="436.69" y1="293.00" x2="436.69" y2="291.70" stroke="#111" stroke-width="0.6" />
<line x1="436.69" y1="174.00" x2="436.69" y2="175.30" stroke="#111" stroke-width="0.6" />
<line x1="437.76" y1="293.00" x2="437.76" y2="291.70" stroke="#111" stroke-width="0.6" />
<line x1="437.76" y1="174.00" x2="437.76" y2="175.30" stroke="#111" stroke-width="0.6" />
<line x1="438.68" y1="293.00" x2="438.68" y2="291.70" stroke="#111" stroke-width="0.6" />
<line x1="438.68" y1="174.00" x2="438.68" y2="175.30" stroke="#111" stroke-width="0.6" />
<line x1="439.49" y1="293.00" x2="439.49" y2="291.70" stroke="#111" stroke-width="0.6" />
<line x1="439.49" y1="174.00" x2="439.49" y2="175.30" stroke="#111" stroke-width="0.6" />
<line x1="440.22" y1="293.00" x2="440.22" y2="290.00" stroke="#111" stroke-width="1" />
<line x1="440.22" y1="174.00" x2="440.22" y2="177.00" stroke="#111" stroke-width="1" />
<line x1="445.00" y1="293.00" x2="445.00" y2="291.70" stroke="#111" stroke-width="0.6" />
<line x1="445.00" y1="174.00" x2="445.00" y2="175.30" stroke="#111" stroke-width="0.6" />
<line x1="447.80" y1="293.00" x2="447.80" y2="291.70" stroke="#111" stroke-width="0.6" />
<line x1="447.80" y1="174.00" x2="447.80" y2="175.30" stroke="#111" stroke-width="0.6" />
<line x1="449.79" y1="293.00" x2="449.79" y2="291.70" stroke="#111" stroke-width="0.6" />
<line x1="449.79" y1="174.00" x2="449.79" y2="175.30" stroke="#111" stroke-width="0.6" />
<line x1="451.33" y1="293.00" x2="451.33" y2="291.70" stroke="#111" stroke-width="0.6" />
<line x1="451.33" y1="174.00" x2="451.33" y2="175.30" stroke="#111" stroke-width="0.6" />
<line x1="452.58" y1="293.00" x2="452.58" y2="291.70" stroke="#111" stroke-width="0.6" />
<line x1="452.58" y1="174.00" x2="452.58" y2="175.30" stroke="#111" stroke-width="0.6" />
<line x1="453.65" y1="293.00" x2="453.65" y2="291.70" stroke="#111" stroke-width="0.6" />
<line x1="453.65" y1="174.00" x2="453.65" y2="175.30" stroke="#111" stroke-width="0.6" />
<line x1="454.57" y1="293.00" x2="454.57" y2="291.70" stroke="#111" stroke-width="0.6" />
<line x1="454.57" y1="174.00" x2="454.57" y2="175.30" stroke="#111" stroke-width="0.6" />
<line x1="455.38" y1="293.00" x2="455.38" y2="291.70" stroke="#111" stroke-width="0.6" />
<line x1="455.38" y1="174.00" x2="455.38" y2="175.30" stroke="#111" stroke-width="0.6" />
<line x1="456.11" y1="293.00" x2="456.11" y2="291.20" stroke="#111" stroke-width="1" />
<line x1="456.11" y1="174.00" x2="456.11" y2="175.80" stroke="#111" stroke-width="1" />
<line x1="460.89" y1="293.00" x2="460.89" y2="291.70" stroke="#111" stroke-width="0.6" />
<line x1="460.89" y1="174.00" x2="460.89" y2="175.30" stroke="#111" stroke-width="0.6" />
<line x1="463.69" y1="293.00" x2="463.69" y2="291.70" stroke="#111" stroke-width="0.6" />
<line x1="463.69" y1="174.00" x2="463.69" y2="175.30" stroke="#111" stroke-width="0.6" />
<line x1="465.68" y1="293.00" x2="465.68" y2="291.70" stroke="#111" stroke-width="0.6" />
<line x1="465.68" y1="174.00" x2="465.68" y2="175.30" stroke="#111" stroke-width="0.6" />
<line x1="467.22" y1="293.00" x2="467.22" y2="291.70" stroke="#111" stroke-width="0.6" />
<line x1="467.22" y1="174.00" x2="467.22" y2="175.30" stroke="#111" stroke-width="0.6" />
<line x1="468.47" y1="293.00" x2="468.47" y2="291.70" stroke="#111" stroke-width="0.6" />
<line x1="468.47" y1="174.00" x2="468.47" y2="175.30" stroke="#111" stroke-width="0.6" />
<line x1="469.54" y1="293.00" x2="469.54" y2="291.70" stroke="#111" stroke-width="0.6" />
<line x1="469.54" y1="174.00" x2="469.54" y2="175.30" stroke="#111" stroke-width="0.6" />
<line x1="470.46" y1="293.00" x2="470.46" y2="291.70" stroke="#111" stroke-width="0.6" />
<line x1="470.46" y1="174.00" x2="470.46" y2="175.30" stroke="#111" stroke-width="0.6" />
<line x1="471.27" y1="293.00" x2="471.27" y2="291.70" stroke="#111" stroke-width="0.6" />
<line x1="471.27" y1="174.00" x2="471.27" y2="175.30" stroke="#111" stroke-width="0.6" />
<line x1="472.00" y1="293.00" x2="472.00" y2="290.00" stroke="#111" stroke-width="1" />
<line x1="472.00" y1="174.00" x2="472.00" y2="177.00" stroke="#111" stroke-width="1" />
<text x="312.60" y="302.60" font-size="8.7" text-anchor="middle" fill="#111">10<tspan font-size="5.4" dy="-3.7">0</tspan></text>
<text x="344.38" y="302.60" font-size="8.7" text-anchor="middle" fill="#111">10<tspan font-size="5.4" dy="-3.7">2</tspan></text>
<text x="376.16" y="302.60" font-size="8.7" text-anchor="middle" fill="#111">10<tspan font-size="5.4" dy="-3.7">4</tspan></text>
<text x="407.94" y="302.60" font-size="8.7" text-anchor="middle" fill="#111">10<tspan font-size="5.4" dy="-3.7">6</tspan></text>
<text x="439.72" y="302.60" font-size="8.7" text-anchor="middle" fill="#111">10<tspan font-size="5.4" dy="-3.7">8</tspan></text>
<text x="471.50" y="302.60" font-size="8.7" text-anchor="middle" fill="#111">10<tspan font-size="5.4" dy="-3.7">10</tspan></text>
<text x="394.00" y="312.50" font-size="12" text-anchor="middle" font-weight="normal" fill="#111" >Cycles (#)</text>
<text transform="translate(294.3,240.2) rotate(-90)" font-size="12" text-anchor="middle" fill="#111">Resistance (Ω)</text>
<text x="268.90" y="175.00" font-size="15.2" text-anchor="start" font-weight="normal" fill="#111" stroke="#111" stroke-width="0.45">(d)</text>
<polyline points="313.10,214.80 320.30,211.40 325.50,184.70 329.00,199.30 334.10,195.00 339.30,218.30 343.60,189.80 348.80,183.80 354.80,208.80 360.00,182.90 364.30,206.20 369.50,191.60 374.70,186.40 379.80,206.20 385.90,186.40 390.00,186.40 394.30,215.70 401.20,197.60 406.40,198.40 410.70,196.70 416.70,197.20 421.00,203.60 426.20,194.10 431.40,195.90 436.60,199.30 441.40,214.00 446.90,213.10 452.10,215.70 457.20,216.20 462.40,219.10 467.20,220.90" stroke="#ef6a48" stroke-width="0.8" fill="none" stroke-linejoin="round" stroke-linecap="round" />
<rect x="311.80" y="213.50" width="2.60" height="2.60" fill="#fff" stroke="#ef6a48" stroke-width="0.7"/>
<rect x="319.00" y="210.10" width="2.60" height="2.60" fill="#fff" stroke="#ef6a48" stroke-width="0.7"/>
<rect x="324.20" y="183.40" width="2.60" height="2.60" fill="#fff" stroke="#ef6a48" stroke-width="0.7"/>
<rect x="327.70" y="198.00" width="2.60" height="2.60" fill="#fff" stroke="#ef6a48" stroke-width="0.7"/>
<rect x="332.80" y="193.70" width="2.60" height="2.60" fill="#fff" stroke="#ef6a48" stroke-width="0.7"/>
<rect x="338.00" y="217.00" width="2.60" height="2.60" fill="#fff" stroke="#ef6a48" stroke-width="0.7"/>
<rect x="342.30" y="188.50" width="2.60" height="2.60" fill="#fff" stroke="#ef6a48" stroke-width="0.7"/>
<rect x="347.50" y="182.50" width="2.60" height="2.60" fill="#fff" stroke="#ef6a48" stroke-width="0.7"/>
<rect x="353.50" y="207.50" width="2.60" height="2.60" fill="#fff" stroke="#ef6a48" stroke-width="0.7"/>
<rect x="358.70" y="181.60" width="2.60" height="2.60" fill="#fff" stroke="#ef6a48" stroke-width="0.7"/>
<rect x="363.00" y="204.90" width="2.60" height="2.60" fill="#fff" stroke="#ef6a48" stroke-width="0.7"/>
<rect x="368.20" y="190.30" width="2.60" height="2.60" fill="#fff" stroke="#ef6a48" stroke-width="0.7"/>
<rect x="373.40" y="185.10" width="2.60" height="2.60" fill="#fff" stroke="#ef6a48" stroke-width="0.7"/>
<rect x="378.50" y="204.90" width="2.60" height="2.60" fill="#fff" stroke="#ef6a48" stroke-width="0.7"/>
<rect x="384.60" y="185.10" width="2.60" height="2.60" fill="#fff" stroke="#ef6a48" stroke-width="0.7"/>
<rect x="388.70" y="185.10" width="2.60" height="2.60" fill="#fff" stroke="#ef6a48" stroke-width="0.7"/>
<rect x="393.00" y="214.40" width="2.60" height="2.60" fill="#fff" stroke="#ef6a48" stroke-width="0.7"/>
<rect x="399.90" y="196.30" width="2.60" height="2.60" fill="#fff" stroke="#ef6a48" stroke-width="0.7"/>
<rect x="405.10" y="197.10" width="2.60" height="2.60" fill="#fff" stroke="#ef6a48" stroke-width="0.7"/>
<rect x="409.40" y="195.40" width="2.60" height="2.60" fill="#fff" stroke="#ef6a48" stroke-width="0.7"/>
<rect x="415.40" y="195.90" width="2.60" height="2.60" fill="#fff" stroke="#ef6a48" stroke-width="0.7"/>
<rect x="419.70" y="202.30" width="2.60" height="2.60" fill="#fff" stroke="#ef6a48" stroke-width="0.7"/>
<rect x="424.90" y="192.80" width="2.60" height="2.60" fill="#fff" stroke="#ef6a48" stroke-width="0.7"/>
<rect x="430.10" y="194.60" width="2.60" height="2.60" fill="#fff" stroke="#ef6a48" stroke-width="0.7"/>
<rect x="435.30" y="198.00" width="2.60" height="2.60" fill="#fff" stroke="#ef6a48" stroke-width="0.7"/>
<rect x="440.10" y="212.70" width="2.60" height="2.60" fill="#fff" stroke="#ef6a48" stroke-width="0.7"/>
<rect x="445.60" y="211.80" width="2.60" height="2.60" fill="#fff" stroke="#ef6a48" stroke-width="0.7"/>
<rect x="450.80" y="214.40" width="2.60" height="2.60" fill="#fff" stroke="#ef6a48" stroke-width="0.7"/>
<rect x="455.90" y="214.90" width="2.60" height="2.60" fill="#fff" stroke="#ef6a48" stroke-width="0.7"/>
<rect x="461.10" y="217.80" width="2.60" height="2.60" fill="#fff" stroke="#ef6a48" stroke-width="0.7"/>
<rect x="465.90" y="219.60" width="2.60" height="2.60" fill="#fff" stroke="#ef6a48" stroke-width="0.7"/>
<polyline points="313.10,184.70 320.30,182.00 323.80,189.00 329.00,186.40 332.40,192.40 338.00,183.00 343.60,206.20 348.00,189.80 354.00,182.50 359.10,192.40 364.30,215.70 369.50,205.00 374.70,198.00 380.70,185.50 385.90,187.00 390.20,209.70 394.30,186.40 401.20,189.00 405.50,183.80 410.70,187.20 416.70,188.60 421.00,187.20 426.20,197.60 431.40,205.30 436.60,218.30 441.40,187.20 446.90,201.90 452.10,202.80 457.20,208.80 463.30,207.90 467.20,220.90" stroke="#4a6ab8" stroke-width="0.8" fill="none" stroke-linejoin="round" stroke-linecap="round" />
<polygon points="313.10,183.14 311.60,185.87 314.60,185.87" fill="#fff" stroke="#4a6ab8" stroke-width="0.7"/>
<polygon points="320.30,180.44 318.80,183.17 321.80,183.17" fill="#fff" stroke="#4a6ab8" stroke-width="0.7"/>
<polygon points="323.80,187.44 322.30,190.17 325.30,190.17" fill="#fff" stroke="#4a6ab8" stroke-width="0.7"/>
<polygon points="329.00,184.84 327.50,187.57 330.50,187.57" fill="#fff" stroke="#4a6ab8" stroke-width="0.7"/>
<polygon points="332.40,190.84 330.90,193.57 333.90,193.57" fill="#fff" stroke="#4a6ab8" stroke-width="0.7"/>
<polygon points="338.00,181.44 336.50,184.17 339.50,184.17" fill="#fff" stroke="#4a6ab8" stroke-width="0.7"/>
<polygon points="343.60,204.64 342.10,207.37 345.10,207.37" fill="#fff" stroke="#4a6ab8" stroke-width="0.7"/>
<polygon points="348.00,188.24 346.50,190.97 349.50,190.97" fill="#fff" stroke="#4a6ab8" stroke-width="0.7"/>
<polygon points="354.00,180.94 352.50,183.67 355.50,183.67" fill="#fff" stroke="#4a6ab8" stroke-width="0.7"/>
<polygon points="359.10,190.84 357.60,193.57 360.60,193.57" fill="#fff" stroke="#4a6ab8" stroke-width="0.7"/>
<polygon points="364.30,214.14 362.80,216.87 365.80,216.87" fill="#fff" stroke="#4a6ab8" stroke-width="0.7"/>
<polygon points="369.50,203.44 368.00,206.17 371.00,206.17" fill="#fff" stroke="#4a6ab8" stroke-width="0.7"/>
<polygon points="374.70,196.44 373.20,199.17 376.20,199.17" fill="#fff" stroke="#4a6ab8" stroke-width="0.7"/>
<polygon points="380.70,183.94 379.20,186.67 382.20,186.67" fill="#fff" stroke="#4a6ab8" stroke-width="0.7"/>
<polygon points="385.90,185.44 384.40,188.17 387.40,188.17" fill="#fff" stroke="#4a6ab8" stroke-width="0.7"/>
<polygon points="390.20,208.14 388.70,210.87 391.70,210.87" fill="#fff" stroke="#4a6ab8" stroke-width="0.7"/>
<polygon points="394.30,184.84 392.80,187.57 395.80,187.57" fill="#fff" stroke="#4a6ab8" stroke-width="0.7"/>
<polygon points="401.20,187.44 399.70,190.17 402.70,190.17" fill="#fff" stroke="#4a6ab8" stroke-width="0.7"/>
<polygon points="405.50,182.24 404.00,184.97 407.00,184.97" fill="#fff" stroke="#4a6ab8" stroke-width="0.7"/>
<polygon points="410.70,185.64 409.20,188.37 412.20,188.37" fill="#fff" stroke="#4a6ab8" stroke-width="0.7"/>
<polygon points="416.70,187.04 415.20,189.77 418.20,189.77" fill="#fff" stroke="#4a6ab8" stroke-width="0.7"/>
<polygon points="421.00,185.64 419.50,188.37 422.50,188.37" fill="#fff" stroke="#4a6ab8" stroke-width="0.7"/>
<polygon points="426.20,196.04 424.70,198.77 427.70,198.77" fill="#fff" stroke="#4a6ab8" stroke-width="0.7"/>
<polygon points="431.40,203.74 429.90,206.47 432.90,206.47" fill="#fff" stroke="#4a6ab8" stroke-width="0.7"/>
<polygon points="436.60,216.74 435.10,219.47 438.10,219.47" fill="#fff" stroke="#4a6ab8" stroke-width="0.7"/>
<polygon points="441.40,185.64 439.90,188.37 442.90,188.37" fill="#fff" stroke="#4a6ab8" stroke-width="0.7"/>
<polygon points="446.90,200.34 445.40,203.07 448.40,203.07" fill="#fff" stroke="#4a6ab8" stroke-width="0.7"/>
<polygon points="452.10,201.24 450.60,203.97 453.60,203.97" fill="#fff" stroke="#4a6ab8" stroke-width="0.7"/>
<polygon points="457.20,207.24 455.70,209.97 458.70,209.97" fill="#fff" stroke="#4a6ab8" stroke-width="0.7"/>
<polygon points="463.30,206.34 461.80,209.07 464.80,209.07" fill="#fff" stroke="#4a6ab8" stroke-width="0.7"/>
<polygon points="467.20,219.34 465.70,222.07 468.70,222.07" fill="#fff" stroke="#4a6ab8" stroke-width="0.7"/>
<polyline points="313.10,183.80 321.20,191.60 324.70,208.80 328.10,213.10 333.30,183.00 339.30,183.40 343.60,184.10 348.80,189.00 354.80,182.40 359.10,191.60 364.30,184.70 369.50,201.90 374.70,215.20 379.80,181.20 385.90,187.20 390.90,201.00 395.20,203.60 401.20,206.20 405.50,201.40 410.70,199.70 416.70,201.40 421.00,204.50 426.20,210.50 431.40,205.30 436.60,215.20 441.40,207.10 446.90,211.40 452.10,214.00 457.20,215.70 462.40,216.90 467.20,220.90" stroke="#333" stroke-width="0.8" fill="none" stroke-linejoin="round" stroke-linecap="round" />
<circle cx="313.10" cy="183.80" r="1.30" fill="#fff" stroke="#333" stroke-width="0.7"/>
<circle cx="321.20" cy="191.60" r="1.30" fill="#fff" stroke="#333" stroke-width="0.7"/>
<circle cx="324.70" cy="208.80" r="1.30" fill="#fff" stroke="#333" stroke-width="0.7"/>
<circle cx="328.10" cy="213.10" r="1.30" fill="#fff" stroke="#333" stroke-width="0.7"/>
<circle cx="333.30" cy="183.00" r="1.30" fill="#fff" stroke="#333" stroke-width="0.7"/>
<circle cx="339.30" cy="183.40" r="1.30" fill="#fff" stroke="#333" stroke-width="0.7"/>
<circle cx="343.60" cy="184.10" r="1.30" fill="#fff" stroke="#333" stroke-width="0.7"/>
<circle cx="348.80" cy="189.00" r="1.30" fill="#fff" stroke="#333" stroke-width="0.7"/>
<circle cx="354.80" cy="182.40" r="1.30" fill="#fff" stroke="#333" stroke-width="0.7"/>
<circle cx="359.10" cy="191.60" r="1.30" fill="#fff" stroke="#333" stroke-width="0.7"/>
<circle cx="364.30" cy="184.70" r="1.30" fill="#fff" stroke="#333" stroke-width="0.7"/>
<circle cx="369.50" cy="201.90" r="1.30" fill="#fff" stroke="#333" stroke-width="0.7"/>
<circle cx="374.70" cy="215.20" r="1.30" fill="#fff" stroke="#333" stroke-width="0.7"/>
<circle cx="379.80" cy="181.20" r="1.30" fill="#fff" stroke="#333" stroke-width="0.7"/>
<circle cx="385.90" cy="187.20" r="1.30" fill="#fff" stroke="#333" stroke-width="0.7"/>
<circle cx="390.90" cy="201.00" r="1.30" fill="#fff" stroke="#333" stroke-width="0.7"/>
<circle cx="395.20" cy="203.60" r="1.30" fill="#fff" stroke="#333" stroke-width="0.7"/>
<circle cx="401.20" cy="206.20" r="1.30" fill="#fff" stroke="#333" stroke-width="0.7"/>
<circle cx="405.50" cy="201.40" r="1.30" fill="#fff" stroke="#333" stroke-width="0.7"/>
<circle cx="410.70" cy="199.70" r="1.30" fill="#fff" stroke="#333" stroke-width="0.7"/>
<circle cx="416.70" cy="201.40" r="1.30" fill="#fff" stroke="#333" stroke-width="0.7"/>
<circle cx="421.00" cy="204.50" r="1.30" fill="#fff" stroke="#333" stroke-width="0.7"/>
<circle cx="426.20" cy="210.50" r="1.30" fill="#fff" stroke="#333" stroke-width="0.7"/>
<circle cx="431.40" cy="205.30" r="1.30" fill="#fff" stroke="#333" stroke-width="0.7"/>
<circle cx="436.60" cy="215.20" r="1.30" fill="#fff" stroke="#333" stroke-width="0.7"/>
<circle cx="441.40" cy="207.10" r="1.30" fill="#fff" stroke="#333" stroke-width="0.7"/>
<circle cx="446.90" cy="211.40" r="1.30" fill="#fff" stroke="#333" stroke-width="0.7"/>
<circle cx="452.10" cy="214.00" r="1.30" fill="#fff" stroke="#333" stroke-width="0.7"/>
<circle cx="457.20" cy="215.70" r="1.30" fill="#fff" stroke="#333" stroke-width="0.7"/>
<circle cx="462.40" cy="216.90" r="1.30" fill="#fff" stroke="#333" stroke-width="0.7"/>
<circle cx="467.20" cy="220.90" r="1.30" fill="#fff" stroke="#333" stroke-width="0.7"/>
<polyline points="316.50,278.08 320.50,278.81 323.60,277.63 326.10,278.07 328.60,279.27 333.00,277.90 339.20,274.30 343.50,277.73 348.50,278.20 354.70,278.55 359.60,279.03 364.00,279.20 370.20,279.36 374.50,278.03 378.90,278.85 385.00,278.37 390.00,280.73 395.00,281.29 400.50,280.87 405.50,281.34 409.90,280.94 416.00,280.72 421.00,281.17 425.40,281.08 431.60,280.27 436.00,279.87 440.90,280.95 447.00,281.37 451.40,280.30 457.00,279.85 462.60,280.78 467.50,281.19" stroke="#1f3a98" stroke-width="0.8" fill="none" stroke-linejoin="round" stroke-linecap="round" />
<polygon points="316.50,276.52 315.00,279.25 318.00,279.25" fill="#1f3a98" stroke="#1f3a98" stroke-width="0.6"/>
<polygon points="320.50,277.25 319.00,279.98 322.00,279.98" fill="#1f3a98" stroke="#1f3a98" stroke-width="0.6"/>
<polygon points="323.60,276.07 322.10,278.80 325.10,278.80" fill="#1f3a98" stroke="#1f3a98" stroke-width="0.6"/>
<polygon points="326.10,276.51 324.60,279.24 327.60,279.24" fill="#1f3a98" stroke="#1f3a98" stroke-width="0.6"/>
<polygon points="328.60,277.71 327.10,280.44 330.10,280.44" fill="#1f3a98" stroke="#1f3a98" stroke-width="0.6"/>
<polygon points="333.00,276.34 331.50,279.07 334.50,279.07" fill="#1f3a98" stroke="#1f3a98" stroke-width="0.6"/>
<polygon points="339.20,272.74 337.70,275.47 340.70,275.47" fill="#1f3a98" stroke="#1f3a98" stroke-width="0.6"/>
<polygon points="343.50,276.17 342.00,278.90 345.00,278.90" fill="#1f3a98" stroke="#1f3a98" stroke-width="0.6"/>
<polygon points="348.50,276.64 347.00,279.37 350.00,279.37" fill="#1f3a98" stroke="#1f3a98" stroke-width="0.6"/>
<polygon points="354.70,276.99 353.20,279.72 356.20,279.72" fill="#1f3a98" stroke="#1f3a98" stroke-width="0.6"/>
<polygon points="359.60,277.47 358.10,280.20 361.10,280.20" fill="#1f3a98" stroke="#1f3a98" stroke-width="0.6"/>
<polygon points="364.00,277.64 362.50,280.37 365.50,280.37" fill="#1f3a98" stroke="#1f3a98" stroke-width="0.6"/>
<polygon points="370.20,277.80 368.70,280.53 371.70,280.53" fill="#1f3a98" stroke="#1f3a98" stroke-width="0.6"/>
<polygon points="374.50,276.47 373.00,279.20 376.00,279.20" fill="#1f3a98" stroke="#1f3a98" stroke-width="0.6"/>
<polygon points="378.90,277.29 377.40,280.02 380.40,280.02" fill="#1f3a98" stroke="#1f3a98" stroke-width="0.6"/>
<polygon points="385.00,276.81 383.50,279.54 386.50,279.54" fill="#1f3a98" stroke="#1f3a98" stroke-width="0.6"/>
<polygon points="390.00,279.17 388.50,281.90 391.50,281.90" fill="#1f3a98" stroke="#1f3a98" stroke-width="0.6"/>
<polygon points="395.00,279.73 393.50,282.46 396.50,282.46" fill="#1f3a98" stroke="#1f3a98" stroke-width="0.6"/>
<polygon points="400.50,279.31 399.00,282.04 402.00,282.04" fill="#1f3a98" stroke="#1f3a98" stroke-width="0.6"/>
<polygon points="405.50,279.78 404.00,282.51 407.00,282.51" fill="#1f3a98" stroke="#1f3a98" stroke-width="0.6"/>
<polygon points="409.90,279.38 408.40,282.11 411.40,282.11" fill="#1f3a98" stroke="#1f3a98" stroke-width="0.6"/>
<polygon points="416.00,279.16 414.50,281.89 417.50,281.89" fill="#1f3a98" stroke="#1f3a98" stroke-width="0.6"/>
<polygon points="421.00,279.61 419.50,282.34 422.50,282.34" fill="#1f3a98" stroke="#1f3a98" stroke-width="0.6"/>
<polygon points="425.40,279.52 423.90,282.25 426.90,282.25" fill="#1f3a98" stroke="#1f3a98" stroke-width="0.6"/>
<polygon points="431.60,278.71 430.10,281.44 433.10,281.44" fill="#1f3a98" stroke="#1f3a98" stroke-width="0.6"/>
<polygon points="436.00,278.31 434.50,281.04 437.50,281.04" fill="#1f3a98" stroke="#1f3a98" stroke-width="0.6"/>
<polygon points="440.90,279.39 439.40,282.12 442.40,282.12" fill="#1f3a98" stroke="#1f3a98" stroke-width="0.6"/>
<polygon points="447.00,279.81 445.50,282.54 448.50,282.54" fill="#1f3a98" stroke="#1f3a98" stroke-width="0.6"/>
<polygon points="451.40,278.74 449.90,281.47 452.90,281.47" fill="#1f3a98" stroke="#1f3a98" stroke-width="0.6"/>
<polygon points="457.00,278.29 455.50,281.02 458.50,281.02" fill="#1f3a98" stroke="#1f3a98" stroke-width="0.6"/>
<polygon points="462.60,279.22 461.10,281.95 464.10,281.95" fill="#1f3a98" stroke="#1f3a98" stroke-width="0.6"/>
<polygon points="467.50,279.63 466.00,282.36 469.00,282.36" fill="#1f3a98" stroke="#1f3a98" stroke-width="0.6"/>
<polyline points="316.50,281.29 320.50,281.45 323.60,281.87 326.10,282.19 328.60,281.15 333.00,281.47 339.20,281.68 343.50,281.72 348.50,280.26 354.70,281.64 359.60,282.04 364.00,281.09 370.20,280.39 378.90,277.40 378.90,280.80 385.00,280.90 390.00,279.05 395.00,278.97 400.50,277.86 405.50,279.05 409.90,277.94 416.00,273.40 421.00,279.18 425.40,278.26 431.60,278.83 436.00,278.58 440.90,278.13 447.00,278.41 451.40,277.72 457.00,277.92 462.60,277.85 467.50,278.10" stroke="#e8481f" stroke-width="0.8" fill="none" stroke-linejoin="round" stroke-linecap="round" />
<rect x="315.20" y="279.99" width="2.60" height="2.60" fill="#e8481f" stroke="#e8481f" stroke-width="0.6"/>
<rect x="319.20" y="280.15" width="2.60" height="2.60" fill="#e8481f" stroke="#e8481f" stroke-width="0.6"/>
<rect x="322.30" y="280.57" width="2.60" height="2.60" fill="#e8481f" stroke="#e8481f" stroke-width="0.6"/>
<rect x="324.80" y="280.89" width="2.60" height="2.60" fill="#e8481f" stroke="#e8481f" stroke-width="0.6"/>
<rect x="327.30" y="279.85" width="2.60" height="2.60" fill="#e8481f" stroke="#e8481f" stroke-width="0.6"/>
<rect x="331.70" y="280.17" width="2.60" height="2.60" fill="#e8481f" stroke="#e8481f" stroke-width="0.6"/>
<rect x="337.90" y="280.38" width="2.60" height="2.60" fill="#e8481f" stroke="#e8481f" stroke-width="0.6"/>
<rect x="342.20" y="280.42" width="2.60" height="2.60" fill="#e8481f" stroke="#e8481f" stroke-width="0.6"/>
<rect x="347.20" y="278.96" width="2.60" height="2.60" fill="#e8481f" stroke="#e8481f" stroke-width="0.6"/>
<rect x="353.40" y="280.34" width="2.60" height="2.60" fill="#e8481f" stroke="#e8481f" stroke-width="0.6"/>
<rect x="358.30" y="280.74" width="2.60" height="2.60" fill="#e8481f" stroke="#e8481f" stroke-width="0.6"/>
<rect x="362.70" y="279.79" width="2.60" height="2.60" fill="#e8481f" stroke="#e8481f" stroke-width="0.6"/>
<rect x="368.90" y="279.09" width="2.60" height="2.60" fill="#e8481f" stroke="#e8481f" stroke-width="0.6"/>
<rect x="377.60" y="276.10" width="2.60" height="2.60" fill="#e8481f" stroke="#e8481f" stroke-width="0.6"/>
<rect x="377.60" y="279.50" width="2.60" height="2.60" fill="#e8481f" stroke="#e8481f" stroke-width="0.6"/>
<rect x="383.70" y="279.60" width="2.60" height="2.60" fill="#e8481f" stroke="#e8481f" stroke-width="0.6"/>
<rect x="388.70" y="277.75" width="2.60" height="2.60" fill="#e8481f" stroke="#e8481f" stroke-width="0.6"/>
<rect x="393.70" y="277.67" width="2.60" height="2.60" fill="#e8481f" stroke="#e8481f" stroke-width="0.6"/>
<rect x="399.20" y="276.56" width="2.60" height="2.60" fill="#e8481f" stroke="#e8481f" stroke-width="0.6"/>
<rect x="404.20" y="277.75" width="2.60" height="2.60" fill="#e8481f" stroke="#e8481f" stroke-width="0.6"/>
<rect x="408.60" y="276.64" width="2.60" height="2.60" fill="#e8481f" stroke="#e8481f" stroke-width="0.6"/>
<rect x="414.70" y="272.10" width="2.60" height="2.60" fill="#e8481f" stroke="#e8481f" stroke-width="0.6"/>
<rect x="419.70" y="277.88" width="2.60" height="2.60" fill="#e8481f" stroke="#e8481f" stroke-width="0.6"/>
<rect x="424.10" y="276.96" width="2.60" height="2.60" fill="#e8481f" stroke="#e8481f" stroke-width="0.6"/>
<rect x="430.30" y="277.53" width="2.60" height="2.60" fill="#e8481f" stroke="#e8481f" stroke-width="0.6"/>
<rect x="434.70" y="277.28" width="2.60" height="2.60" fill="#e8481f" stroke="#e8481f" stroke-width="0.6"/>
<rect x="439.60" y="276.83" width="2.60" height="2.60" fill="#e8481f" stroke="#e8481f" stroke-width="0.6"/>
<rect x="445.70" y="277.11" width="2.60" height="2.60" fill="#e8481f" stroke="#e8481f" stroke-width="0.6"/>
<rect x="450.10" y="276.42" width="2.60" height="2.60" fill="#e8481f" stroke="#e8481f" stroke-width="0.6"/>
<rect x="455.70" y="276.62" width="2.60" height="2.60" fill="#e8481f" stroke="#e8481f" stroke-width="0.6"/>
<rect x="461.30" y="276.55" width="2.60" height="2.60" fill="#e8481f" stroke="#e8481f" stroke-width="0.6"/>
<rect x="466.20" y="276.80" width="2.60" height="2.60" fill="#e8481f" stroke="#e8481f" stroke-width="0.6"/>
<polyline points="316.50,285.12 320.50,286.50 323.60,287.00 326.10,287.20 328.60,285.49 333.00,285.82 339.20,285.54 343.50,285.43 348.50,285.81 354.70,285.83 359.60,285.15 364.00,285.91 370.20,284.79 374.50,285.21 378.90,285.31 385.00,285.42 390.00,285.55 395.00,285.99 400.50,285.80 405.50,285.40 409.90,285.76 416.00,284.69 421.00,284.72 425.40,284.81 431.60,285.82 436.00,284.66 440.90,285.83 447.00,282.20 451.40,281.64 457.00,281.37 462.60,280.86 467.50,282.14" stroke="#111" stroke-width="0.8" fill="none" stroke-linejoin="round" stroke-linecap="round" />
<circle cx="316.50" cy="285.12" r="1.30" fill="#111" stroke="#111" stroke-width="0.6"/>
<circle cx="320.50" cy="286.50" r="1.30" fill="#111" stroke="#111" stroke-width="0.6"/>
<circle cx="323.60" cy="287.00" r="1.30" fill="#111" stroke="#111" stroke-width="0.6"/>
<circle cx="326.10" cy="287.20" r="1.30" fill="#111" stroke="#111" stroke-width="0.6"/>
<circle cx="328.60" cy="285.49" r="1.30" fill="#111" stroke="#111" stroke-width="0.6"/>
<circle cx="333.00" cy="285.82" r="1.30" fill="#111" stroke="#111" stroke-width="0.6"/>
<circle cx="339.20" cy="285.54" r="1.30" fill="#111" stroke="#111" stroke-width="0.6"/>
<circle cx="343.50" cy="285.43" r="1.30" fill="#111" stroke="#111" stroke-width="0.6"/>
<circle cx="348.50" cy="285.81" r="1.30" fill="#111" stroke="#111" stroke-width="0.6"/>
<circle cx="354.70" cy="285.83" r="1.30" fill="#111" stroke="#111" stroke-width="0.6"/>
<circle cx="359.60" cy="285.15" r="1.30" fill="#111" stroke="#111" stroke-width="0.6"/>
<circle cx="364.00" cy="285.91" r="1.30" fill="#111" stroke="#111" stroke-width="0.6"/>
<circle cx="370.20" cy="284.79" r="1.30" fill="#111" stroke="#111" stroke-width="0.6"/>
<circle cx="374.50" cy="285.21" r="1.30" fill="#111" stroke="#111" stroke-width="0.6"/>
<circle cx="378.90" cy="285.31" r="1.30" fill="#111" stroke="#111" stroke-width="0.6"/>
<circle cx="385.00" cy="285.42" r="1.30" fill="#111" stroke="#111" stroke-width="0.6"/>
<circle cx="390.00" cy="285.55" r="1.30" fill="#111" stroke="#111" stroke-width="0.6"/>
<circle cx="395.00" cy="285.99" r="1.30" fill="#111" stroke="#111" stroke-width="0.6"/>
<circle cx="400.50" cy="285.80" r="1.30" fill="#111" stroke="#111" stroke-width="0.6"/>
<circle cx="405.50" cy="285.40" r="1.30" fill="#111" stroke="#111" stroke-width="0.6"/>
<circle cx="409.90" cy="285.76" r="1.30" fill="#111" stroke="#111" stroke-width="0.6"/>
<circle cx="416.00" cy="284.69" r="1.30" fill="#111" stroke="#111" stroke-width="0.6"/>
<circle cx="421.00" cy="284.72" r="1.30" fill="#111" stroke="#111" stroke-width="0.6"/>
<circle cx="425.40" cy="284.81" r="1.30" fill="#111" stroke="#111" stroke-width="0.6"/>
<circle cx="431.60" cy="285.82" r="1.30" fill="#111" stroke="#111" stroke-width="0.6"/>
<circle cx="436.00" cy="284.66" r="1.30" fill="#111" stroke="#111" stroke-width="0.6"/>
<circle cx="440.90" cy="285.83" r="1.30" fill="#111" stroke="#111" stroke-width="0.6"/>
<circle cx="447.00" cy="282.20" r="1.30" fill="#111" stroke="#111" stroke-width="0.6"/>
<circle cx="451.40" cy="281.64" r="1.30" fill="#111" stroke="#111" stroke-width="0.6"/>
<circle cx="457.00" cy="281.37" r="1.30" fill="#111" stroke="#111" stroke-width="0.6"/>
<circle cx="462.60" cy="280.86" r="1.30" fill="#111" stroke="#111" stroke-width="0.6"/>
<circle cx="467.50" cy="282.14" r="1.30" fill="#111" stroke="#111" stroke-width="0.6"/>
<text x="316.10" y="235.40" font-size="7.2" text-anchor="start" font-weight="normal" fill="#111" >HRS:</text>
<text x="356.30" y="235.40" font-size="7.2" text-anchor="start" font-weight="normal" fill="#111" >LRS:</text>
<line x1="316.00" y1="241.40" x2="331.00" y2="241.40" stroke="#ef6a48" stroke-width="0.7" />
<rect x="322.50" y="240.20" width="2.40" height="2.40" fill="#fff" stroke="#ef6a48" stroke-width="0.6"/>
<text x="333.80" y="243.80" font-size="6.8" text-anchor="start" font-weight="normal" fill="#111" >Bottom</text>
<line x1="356.60" y1="241.40" x2="371.00" y2="241.40" stroke="#e8481f" stroke-width="0.7" />
<rect x="362.60" y="240.20" width="2.40" height="2.40" fill="#e8481f" stroke="#e8481f" stroke-width="0.6"/>
<text x="374.00" y="243.80" font-size="6.8" text-anchor="start" font-weight="normal" fill="#111" >Bottom</text>
<line x1="316.00" y1="250.05" x2="331.00" y2="250.05" stroke="#4a6ab8" stroke-width="0.7" />
<polygon points="323.70,248.61 322.30,251.13 325.10,251.13" fill="#fff" stroke="#4a6ab8" stroke-width="0.6"/>
<text x="333.80" y="252.45" font-size="6.8" text-anchor="start" font-weight="normal" fill="#111" >Middle</text>
<line x1="356.60" y1="250.05" x2="371.00" y2="250.05" stroke="#1f3a98" stroke-width="0.7" />
<polygon points="363.80,248.61 362.40,251.13 365.20,251.13" fill="#1f3a98" stroke="#1f3a98" stroke-width="0.6"/>
<text x="374.00" y="252.45" font-size="6.8" text-anchor="start" font-weight="normal" fill="#111" >Middle</text>
<line x1="316.00" y1="258.70" x2="331.00" y2="258.70" stroke="#333" stroke-width="0.7" />
<circle cx="323.70" cy="258.70" r="1.20" fill="#fff" stroke="#333" stroke-width="0.6"/>
<text x="333.80" y="261.10" font-size="6.8" text-anchor="start" font-weight="normal" fill="#111" >Top</text>
<line x1="356.60" y1="258.70" x2="371.00" y2="258.70" stroke="#111" stroke-width="0.7" />
<circle cx="363.80" cy="258.70" r="1.20" fill="#111" stroke="#111" stroke-width="0.6"/>
<text x="374.00" y="261.10" font-size="6.8" text-anchor="start" font-weight="normal" fill="#111" >Top</text>
<polyline points="404.00,233.40 410.40,233.40 410.40,223.50 412.90,223.50 412.90,233.40 419.00,233.40 419.00,230.40 433.50,230.40 433.50,233.40 438.20,233.40 438.20,244.10 441.00,244.10 441.00,233.40 447.60,233.40 447.60,230.40 460.80,230.40 460.80,233.40 466.50,233.40" stroke="#111" stroke-width="0.9" fill="none" stroke-linejoin="round" stroke-linecap="round" stroke-linecap="butt" stroke-linejoin="miter"/>
<text x="409" y="240.8" font-size="7" font-weight="bold" fill="#111">V<tspan font-size="4" font-weight="normal" dy="1">reset</tspan></text>
<text x="420.4" y="228.8" font-size="7" font-weight="bold" fill="#111">V<tspan font-size="4" font-weight="normal" dy="1">read</tspan></text>
<text x="443" y="240.8" font-size="7" font-weight="bold" fill="#111">V<tspan font-size="4" font-weight="normal" dy="1">set</tspan></text>
<text x="448.6" y="228.8" font-size="7" font-weight="bold" fill="#111">V<tspan font-size="4" font-weight="normal" dy="1">read</tspan></text>
<text x="408.20" y="252.70" font-size="6.75" text-anchor="start" font-weight="normal" fill="#111" >SET: -1.9V 100ns</text>
<text x="408.20" y="261.60" font-size="6.75" text-anchor="start" font-weight="normal" fill="#111" >RESET: 2.3V 100ns</text>
<text x="408.20" y="269.90" font-size="6.75" text-anchor="start" font-weight="normal" fill="#111" >READ: 0.1V</text>
<rect x="519.6" y="173.8" width="159.40" height="118.80" fill="none" stroke="#111" stroke-width="1"/>
<line x1="519.60" y1="291.00" x2="522.60" y2="291.00" stroke="#111" stroke-width="1" />
<line x1="679.00" y1="291.00" x2="676.00" y2="291.00" stroke="#111" stroke-width="1" />
<line x1="519.60" y1="273.00" x2="521.40" y2="273.00" stroke="#111" stroke-width="1" />
<line x1="679.00" y1="273.00" x2="677.20" y2="273.00" stroke="#111" stroke-width="1" />
<line x1="519.60" y1="255.00" x2="522.60" y2="255.00" stroke="#111" stroke-width="1" />
<line x1="679.00" y1="255.00" x2="676.00" y2="255.00" stroke="#111" stroke-width="1" />
<line x1="519.60" y1="237.00" x2="521.40" y2="237.00" stroke="#111" stroke-width="1" />
<line x1="679.00" y1="237.00" x2="677.20" y2="237.00" stroke="#111" stroke-width="1" />
<line x1="519.60" y1="219.00" x2="522.60" y2="219.00" stroke="#111" stroke-width="1" />
<line x1="679.00" y1="219.00" x2="676.00" y2="219.00" stroke="#111" stroke-width="1" />
<line x1="519.60" y1="201.00" x2="521.40" y2="201.00" stroke="#111" stroke-width="1" />
<line x1="679.00" y1="201.00" x2="677.20" y2="201.00" stroke="#111" stroke-width="1" />
<line x1="519.60" y1="183.00" x2="522.60" y2="183.00" stroke="#111" stroke-width="1" />
<line x1="679.00" y1="183.00" x2="676.00" y2="183.00" stroke="#111" stroke-width="1" />
<text x="517.80" y="185.50" font-size="8.7" text-anchor="end" font-weight="normal" fill="#111" >100M</text>
<text x="517.80" y="221.50" font-size="8.7" text-anchor="end" font-weight="normal" fill="#111" >1M</text>
<text x="517.80" y="257.50" font-size="8.7" text-anchor="end" font-weight="normal" fill="#111" >10k</text>
<text x="517.80" y="293.50" font-size="8.7" text-anchor="end" font-weight="normal" fill="#111" >100</text>
<line x1="519.50" y1="292.60" x2="519.50" y2="289.60" stroke="#111" stroke-width="1" />
<line x1="519.50" y1="173.80" x2="519.50" y2="176.80" stroke="#111" stroke-width="1" />
<line x1="530.70" y1="292.60" x2="530.70" y2="291.00" stroke="#111" stroke-width="0.6" />
<line x1="530.70" y1="173.80" x2="530.70" y2="175.40" stroke="#111" stroke-width="0.6" />
<line x1="537.25" y1="292.60" x2="537.25" y2="291.00" stroke="#111" stroke-width="0.6" />
<line x1="537.25" y1="173.80" x2="537.25" y2="175.40" stroke="#111" stroke-width="0.6" />
<line x1="541.90" y1="292.60" x2="541.90" y2="291.00" stroke="#111" stroke-width="0.6" />
<line x1="541.90" y1="173.80" x2="541.90" y2="175.40" stroke="#111" stroke-width="0.6" />
<line x1="545.50" y1="292.60" x2="545.50" y2="291.00" stroke="#111" stroke-width="0.6" />
<line x1="545.50" y1="173.80" x2="545.50" y2="175.40" stroke="#111" stroke-width="0.6" />
<line x1="548.45" y1="292.60" x2="548.45" y2="291.00" stroke="#111" stroke-width="0.6" />
<line x1="548.45" y1="173.80" x2="548.45" y2="175.40" stroke="#111" stroke-width="0.6" />
<line x1="550.94" y1="292.60" x2="550.94" y2="291.00" stroke="#111" stroke-width="0.6" />
<line x1="550.94" y1="173.80" x2="550.94" y2="175.40" stroke="#111" stroke-width="0.6" />
<line x1="553.09" y1="292.60" x2="553.09" y2="291.00" stroke="#111" stroke-width="0.6" />
<line x1="553.09" y1="173.80" x2="553.09" y2="175.40" stroke="#111" stroke-width="0.6" />
<line x1="555.00" y1="292.60" x2="555.00" y2="291.00" stroke="#111" stroke-width="0.6" />
<line x1="555.00" y1="173.80" x2="555.00" y2="175.40" stroke="#111" stroke-width="0.6" />
<text x="521.00" y="302.40" font-size="8.7" text-anchor="middle" fill="#111">10<tspan font-size="5.4" dy="-3.7">0</tspan></text>
<line x1="556.70" y1="292.60" x2="556.70" y2="289.60" stroke="#111" stroke-width="1" />
<line x1="556.70" y1="173.80" x2="556.70" y2="176.80" stroke="#111" stroke-width="1" />
<line x1="567.90" y1="292.60" x2="567.90" y2="291.00" stroke="#111" stroke-width="0.6" />
<line x1="567.90" y1="173.80" x2="567.90" y2="175.40" stroke="#111" stroke-width="0.6" />
<line x1="574.45" y1="292.60" x2="574.45" y2="291.00" stroke="#111" stroke-width="0.6" />
<line x1="574.45" y1="173.80" x2="574.45" y2="175.40" stroke="#111" stroke-width="0.6" />
<line x1="579.10" y1="292.60" x2="579.10" y2="291.00" stroke="#111" stroke-width="0.6" />
<line x1="579.10" y1="173.80" x2="579.10" y2="175.40" stroke="#111" stroke-width="0.6" />
<line x1="582.70" y1="292.60" x2="582.70" y2="291.00" stroke="#111" stroke-width="0.6" />
<line x1="582.70" y1="173.80" x2="582.70" y2="175.40" stroke="#111" stroke-width="0.6" />
<line x1="585.65" y1="292.60" x2="585.65" y2="291.00" stroke="#111" stroke-width="0.6" />
<line x1="585.65" y1="173.80" x2="585.65" y2="175.40" stroke="#111" stroke-width="0.6" />
<line x1="588.14" y1="292.60" x2="588.14" y2="291.00" stroke="#111" stroke-width="0.6" />
<line x1="588.14" y1="173.80" x2="588.14" y2="175.40" stroke="#111" stroke-width="0.6" />
<line x1="590.29" y1="292.60" x2="590.29" y2="291.00" stroke="#111" stroke-width="0.6" />
<line x1="590.29" y1="173.80" x2="590.29" y2="175.40" stroke="#111" stroke-width="0.6" />
<line x1="592.20" y1="292.60" x2="592.20" y2="291.00" stroke="#111" stroke-width="0.6" />
<line x1="592.20" y1="173.80" x2="592.20" y2="175.40" stroke="#111" stroke-width="0.6" />
<text x="558.20" y="302.40" font-size="8.7" text-anchor="middle" fill="#111">10<tspan font-size="5.4" dy="-3.7">1</tspan></text>
<line x1="593.90" y1="292.60" x2="593.90" y2="289.60" stroke="#111" stroke-width="1" />
<line x1="593.90" y1="173.80" x2="593.90" y2="176.80" stroke="#111" stroke-width="1" />
<line x1="605.10" y1="292.60" x2="605.10" y2="291.00" stroke="#111" stroke-width="0.6" />
<line x1="605.10" y1="173.80" x2="605.10" y2="175.40" stroke="#111" stroke-width="0.6" />
<line x1="611.65" y1="292.60" x2="611.65" y2="291.00" stroke="#111" stroke-width="0.6" />
<line x1="611.65" y1="173.80" x2="611.65" y2="175.40" stroke="#111" stroke-width="0.6" />
<line x1="616.30" y1="292.60" x2="616.30" y2="291.00" stroke="#111" stroke-width="0.6" />
<line x1="616.30" y1="173.80" x2="616.30" y2="175.40" stroke="#111" stroke-width="0.6" />
<line x1="619.90" y1="292.60" x2="619.90" y2="291.00" stroke="#111" stroke-width="0.6" />
<line x1="619.90" y1="173.80" x2="619.90" y2="175.40" stroke="#111" stroke-width="0.6" />
<line x1="622.85" y1="292.60" x2="622.85" y2="291.00" stroke="#111" stroke-width="0.6" />
<line x1="622.85" y1="173.80" x2="622.85" y2="175.40" stroke="#111" stroke-width="0.6" />
<line x1="625.34" y1="292.60" x2="625.34" y2="291.00" stroke="#111" stroke-width="0.6" />
<line x1="625.34" y1="173.80" x2="625.34" y2="175.40" stroke="#111" stroke-width="0.6" />
<line x1="627.49" y1="292.60" x2="627.49" y2="291.00" stroke="#111" stroke-width="0.6" />
<line x1="627.49" y1="173.80" x2="627.49" y2="175.40" stroke="#111" stroke-width="0.6" />
<line x1="629.40" y1="292.60" x2="629.40" y2="291.00" stroke="#111" stroke-width="0.6" />
<line x1="629.40" y1="173.80" x2="629.40" y2="175.40" stroke="#111" stroke-width="0.6" />
<text x="595.40" y="302.40" font-size="8.7" text-anchor="middle" fill="#111">10<tspan font-size="5.4" dy="-3.7">2</tspan></text>
<line x1="631.10" y1="292.60" x2="631.10" y2="289.60" stroke="#111" stroke-width="1" />
<line x1="631.10" y1="173.80" x2="631.10" y2="176.80" stroke="#111" stroke-width="1" />
<line x1="642.30" y1="292.60" x2="642.30" y2="291.00" stroke="#111" stroke-width="0.6" />
<line x1="642.30" y1="173.80" x2="642.30" y2="175.40" stroke="#111" stroke-width="0.6" />
<line x1="648.85" y1="292.60" x2="648.85" y2="291.00" stroke="#111" stroke-width="0.6" />
<line x1="648.85" y1="173.80" x2="648.85" y2="175.40" stroke="#111" stroke-width="0.6" />
<line x1="653.50" y1="292.60" x2="653.50" y2="291.00" stroke="#111" stroke-width="0.6" />
<line x1="653.50" y1="173.80" x2="653.50" y2="175.40" stroke="#111" stroke-width="0.6" />
<line x1="657.10" y1="292.60" x2="657.10" y2="291.00" stroke="#111" stroke-width="0.6" />
<line x1="657.10" y1="173.80" x2="657.10" y2="175.40" stroke="#111" stroke-width="0.6" />
<line x1="660.05" y1="292.60" x2="660.05" y2="291.00" stroke="#111" stroke-width="0.6" />
<line x1="660.05" y1="173.80" x2="660.05" y2="175.40" stroke="#111" stroke-width="0.6" />
<line x1="662.54" y1="292.60" x2="662.54" y2="291.00" stroke="#111" stroke-width="0.6" />
<line x1="662.54" y1="173.80" x2="662.54" y2="175.40" stroke="#111" stroke-width="0.6" />
<line x1="664.69" y1="292.60" x2="664.69" y2="291.00" stroke="#111" stroke-width="0.6" />
<line x1="664.69" y1="173.80" x2="664.69" y2="175.40" stroke="#111" stroke-width="0.6" />
<line x1="666.60" y1="292.60" x2="666.60" y2="291.00" stroke="#111" stroke-width="0.6" />
<line x1="666.60" y1="173.80" x2="666.60" y2="175.40" stroke="#111" stroke-width="0.6" />
<text x="632.60" y="302.40" font-size="8.7" text-anchor="middle" fill="#111">10<tspan font-size="5.4" dy="-3.7">3</tspan></text>
<line x1="668.30" y1="292.60" x2="668.30" y2="289.60" stroke="#111" stroke-width="1" />
<line x1="668.30" y1="173.80" x2="668.30" y2="176.80" stroke="#111" stroke-width="1" />
<text x="669.80" y="302.40" font-size="8.7" text-anchor="middle" fill="#111">10<tspan font-size="5.4" dy="-3.7">4</tspan></text>
<text x="597.30" y="312.20" font-size="12" text-anchor="middle" font-weight="normal" fill="#111" >Time (s)</text>
<text transform="translate(501.5,240.2) rotate(-90)" font-size="12" text-anchor="middle" fill="#111">Resistance (Ω)</text>
<text x="474.40" y="174.85" font-size="15" text-anchor="start" font-weight="normal" fill="#111" stroke="#111" stroke-width="0.45">(e)</text>
<line x1="521.00" y1="205.20" x2="670.30" y2="205.20" stroke="#ef6a48" stroke-width="1.0" />
<line x1="521.00" y1="204.60" x2="670.30" y2="204.60" stroke="#4a6ab8" stroke-width="1.1" />
<line x1="521.00" y1="204.30" x2="670.30" y2="204.30" stroke="#555" stroke-width="0.6" />
<circle cx="537.36" cy="204.60" r="1.30" fill="#fff" stroke="#555" stroke-width="0.7"/>
<circle cx="556.70" cy="204.60" r="1.30" fill="#fff" stroke="#555" stroke-width="0.7"/>
<circle cx="574.56" cy="204.60" r="1.30" fill="#fff" stroke="#555" stroke-width="0.7"/>
<circle cx="593.90" cy="204.60" r="1.30" fill="#fff" stroke="#555" stroke-width="0.7"/>
<circle cx="611.76" cy="204.60" r="1.30" fill="#fff" stroke="#555" stroke-width="0.7"/>
<circle cx="622.92" cy="204.60" r="1.30" fill="#fff" stroke="#555" stroke-width="0.7"/>
<circle cx="627.38" cy="204.60" r="1.30" fill="#fff" stroke="#555" stroke-width="0.7"/>
<circle cx="631.10" cy="204.60" r="1.30" fill="#fff" stroke="#555" stroke-width="0.7"/>
<circle cx="633.33" cy="204.60" r="1.30" fill="#fff" stroke="#555" stroke-width="0.7"/>
<circle cx="634.82" cy="204.60" r="1.30" fill="#fff" stroke="#555" stroke-width="0.7"/>
<line x1="636.00" y1="204.60" x2="658.00" y2="204.60" stroke="#6a7088" stroke-width="3.2" />
<line x1="658.00" y1="204.60" x2="670.00" y2="204.60" stroke="#1c2448" stroke-width="3.8" />
<line x1="652.00" y1="203.00" x2="656.00" y2="202.40" stroke="#777" stroke-width="0.8" />
<line x1="669.80" y1="278.60" x2="521.00" y2="278.60" stroke="#e8481f" stroke-width="0.9" />
<line x1="521.00" y1="277.50" x2="670.30" y2="277.50" stroke="#666" stroke-width="1.3" />
<circle cx="537.36" cy="277.60" r="1.40" fill="#111" stroke="#111" stroke-width="0.6"/>
<circle cx="556.70" cy="277.60" r="1.40" fill="#111" stroke="#111" stroke-width="0.6"/>
<circle cx="574.56" cy="277.60" r="1.40" fill="#111" stroke="#111" stroke-width="0.6"/>
<circle cx="593.90" cy="277.60" r="1.40" fill="#111" stroke="#111" stroke-width="0.6"/>
<circle cx="611.76" cy="277.60" r="1.40" fill="#111" stroke="#111" stroke-width="0.6"/>
<circle cx="622.92" cy="277.60" r="1.40" fill="#111" stroke="#111" stroke-width="0.6"/>
<circle cx="627.38" cy="277.60" r="1.40" fill="#111" stroke="#111" stroke-width="0.6"/>
<circle cx="631.10" cy="277.60" r="1.40" fill="#111" stroke="#111" stroke-width="0.6"/>
<circle cx="633.33" cy="277.60" r="1.40" fill="#111" stroke="#111" stroke-width="0.6"/>
<circle cx="634.82" cy="277.60" r="1.40" fill="#111" stroke="#111" stroke-width="0.6"/>
<circle cx="636.31" cy="277.60" r="1.40" fill="#111" stroke="#111" stroke-width="0.6"/>
<circle cx="637.80" cy="277.60" r="1.40" fill="#111" stroke="#111" stroke-width="0.6"/>
<circle cx="639.28" cy="277.60" r="1.40" fill="#111" stroke="#111" stroke-width="0.6"/>
<circle cx="640.77" cy="277.60" r="1.40" fill="#111" stroke="#111" stroke-width="0.6"/>
<circle cx="642.26" cy="277.60" r="1.40" fill="#111" stroke="#111" stroke-width="0.6"/>
<circle cx="643.75" cy="277.60" r="1.40" fill="#111" stroke="#111" stroke-width="0.6"/>
<circle cx="645.24" cy="277.60" r="1.40" fill="#111" stroke="#111" stroke-width="0.6"/>
<circle cx="646.72" cy="277.60" r="1.40" fill="#111" stroke="#111" stroke-width="0.6"/>
<circle cx="648.21" cy="277.60" r="1.40" fill="#111" stroke="#111" stroke-width="0.6"/>
<circle cx="649.70" cy="277.60" r="1.40" fill="#111" stroke="#111" stroke-width="0.6"/>
<circle cx="651.19" cy="277.60" r="1.40" fill="#111" stroke="#111" stroke-width="0.6"/>
<circle cx="652.68" cy="277.60" r="1.40" fill="#111" stroke="#111" stroke-width="0.6"/>
<circle cx="654.16" cy="277.60" r="1.40" fill="#111" stroke="#111" stroke-width="0.6"/>
<circle cx="655.65" cy="277.60" r="1.40" fill="#111" stroke="#111" stroke-width="0.6"/>
<circle cx="657.14" cy="277.60" r="1.40" fill="#111" stroke="#111" stroke-width="0.6"/>
<circle cx="658.63" cy="277.60" r="1.40" fill="#111" stroke="#111" stroke-width="0.6"/>
<circle cx="660.12" cy="277.60" r="1.40" fill="#111" stroke="#111" stroke-width="0.6"/>
<circle cx="661.60" cy="277.60" r="1.40" fill="#111" stroke="#111" stroke-width="0.6"/>
<circle cx="663.09" cy="277.60" r="1.40" fill="#111" stroke="#111" stroke-width="0.6"/>
<circle cx="664.58" cy="277.60" r="1.40" fill="#111" stroke="#111" stroke-width="0.6"/>
<circle cx="666.07" cy="277.60" r="1.40" fill="#111" stroke="#111" stroke-width="0.6"/>
<circle cx="667.56" cy="277.60" r="1.40" fill="#111" stroke="#111" stroke-width="0.6"/>
<circle cx="669.04" cy="277.60" r="1.40" fill="#111" stroke="#111" stroke-width="0.6"/>
<text x="524.20" y="223.00" font-size="8.2" text-anchor="start" font-weight="normal" fill="#111" >HRS:</text>
<text x="571.70" y="223.00" font-size="8.2" text-anchor="start" font-weight="normal" fill="#111" >LRS:</text>
<line x1="524.00" y1="229.10" x2="541.50" y2="229.10" stroke="#ef6a48" stroke-width="0.7" />
<circle cx="532.70" cy="229.10" r="1.20" fill="#fff" stroke="#ef6a48" stroke-width="0.6"/>
<text x="544.00" y="231.90" font-size="7.8" text-anchor="start" font-weight="normal" fill="#111" >Bottom</text>
<line x1="571.00" y1="229.10" x2="588.40" y2="229.10" stroke="#e8704f" stroke-width="0.7" />
<circle cx="579.80" cy="229.10" r="1.20" fill="#e8481f" stroke="#e8481f" stroke-width="0.6"/>
<text x="591.50" y="231.90" font-size="7.8" text-anchor="start" font-weight="normal" fill="#111" >Bottom</text>
<line x1="524.00" y1="238.90" x2="541.50" y2="238.90" stroke="#4a6ab8" stroke-width="0.7" />
<polygon points="532.70,237.46 531.30,239.98 534.10,239.98" fill="#fff" stroke="#4a6ab8" stroke-width="0.6"/>
<text x="544.00" y="241.70" font-size="7.8" text-anchor="start" font-weight="normal" fill="#111" >Middle</text>
<line x1="571.00" y1="238.90" x2="588.40" y2="238.90" stroke="#5a72c0" stroke-width="0.7" />
<polygon points="579.80,237.46 578.40,239.98 581.20,239.98" fill="#1f3a98" stroke="#1f3a98" stroke-width="0.6"/>
<text x="591.50" y="241.70" font-size="7.8" text-anchor="start" font-weight="normal" fill="#111" >Middle</text>
<line x1="524.00" y1="248.70" x2="541.50" y2="248.70" stroke="#555" stroke-width="0.7" />
<circle cx="532.70" cy="248.70" r="1.20" fill="#fff" stroke="#555" stroke-width="0.6"/>
<text x="544.00" y="251.50" font-size="7.8" text-anchor="start" font-weight="normal" fill="#111" >Top</text>
<line x1="571.00" y1="248.70" x2="588.40" y2="248.70" stroke="#333" stroke-width="0.7" />
<circle cx="579.80" cy="248.70" r="1.20" fill="#111" stroke="#111" stroke-width="0.6"/>
<text x="591.50" y="251.50" font-size="7.8" text-anchor="start" font-weight="normal" fill="#111" >Top</text>
<text x="590.2" y="270.3" font-size="7.7" fill="#111">Temperature @ 125<tspan font-size="5" dy="-3">o</tspan><tspan dy="3">C</tspan></text>
</svg></body></html>
